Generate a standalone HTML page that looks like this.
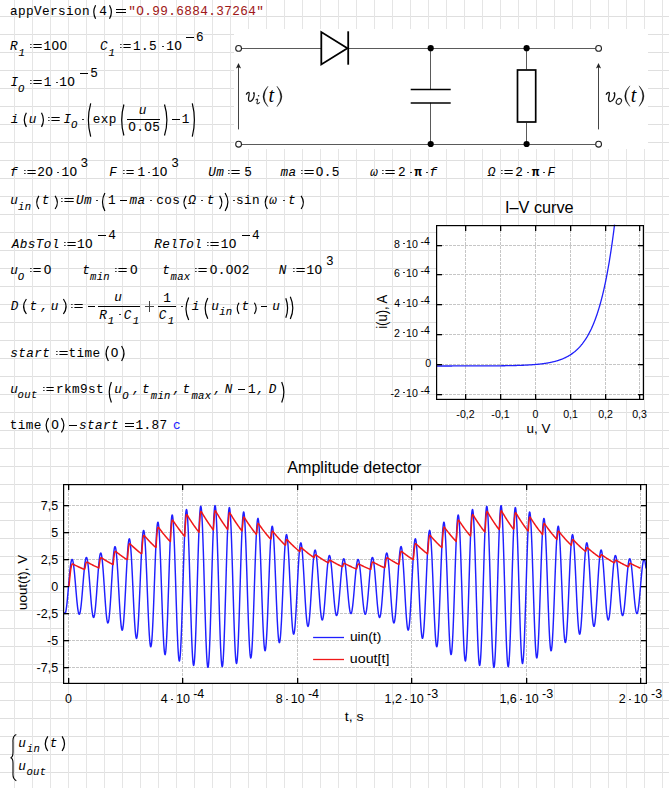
<!DOCTYPE html>
<html><head><meta charset="utf-8"><style>
html,body{margin:0;padding:0;background:#fff;}
body{width:669px;height:788px;overflow:hidden;position:relative;
background-image:linear-gradient(to right,#e5e5e5 1px,transparent 1px),linear-gradient(to bottom,#dfdfdf 1px,transparent 1px);
background-size:18px 18px;background-position:14px 16px;}
svg{position:absolute;left:0;top:0;}
text{font-family:"Liberation Mono",monospace;}
.m text{stroke:currentColor;stroke-width:0.06px;}
.s text{font-family:"Liberation Sans",sans-serif;}
</style></head><body>
<svg width="669" height="788" viewBox="0 0 669 788">
<rect x="234" y="29" width="414" height="120" fill="#fff"/>
<line x1="241.5" y1="48.5" x2="321.5" y2="48.5" stroke="#5a5a5a" stroke-width="1.05" />
<line x1="348" y1="48.5" x2="595.5" y2="48.5" stroke="#5a5a5a" stroke-width="1.05" />
<line x1="241.5" y1="144.5" x2="595.5" y2="144.5" stroke="#5a5a5a" stroke-width="1.05" />
<circle cx="238.6" cy="48.4" r="2.9" fill="#fff" stroke="#222" stroke-width="1.1"/>
<circle cx="238.6" cy="144.2" r="2.9" fill="#fff" stroke="#222" stroke-width="1.1"/>
<circle cx="598.6" cy="48.4" r="2.9" fill="#fff" stroke="#222" stroke-width="1.1"/>
<circle cx="598.6" cy="144.2" r="2.9" fill="#fff" stroke="#222" stroke-width="1.1"/>
<path d="M321.3,32 L321.3,64.4 L347.4,48.2 Z" fill="none" stroke="#000" stroke-width="1.8" stroke-linejoin="miter"/>
<line x1="348.2" y1="31.3" x2="348.2" y2="64.7" stroke="#000" stroke-width="1.8" />
<line x1="430.5" y1="48" x2="430.5" y2="89.2" stroke="#5a5a5a" stroke-width="1.05" />
<line x1="430.5" y1="102.7" x2="430.5" y2="144" stroke="#5a5a5a" stroke-width="1.05" />
<line x1="410.7" y1="89.4" x2="450.7" y2="89.4" stroke="#000" stroke-width="1.5" />
<line x1="410.7" y1="103" x2="450.7" y2="103" stroke="#000" stroke-width="1.6" />
<line x1="526.5" y1="48" x2="526.5" y2="69.2" stroke="#5a5a5a" stroke-width="1.05" />
<line x1="526.5" y1="122.8" x2="526.5" y2="144" stroke="#5a5a5a" stroke-width="1.05" />
<rect x="517.5" y="70.0" width="18.2" height="52" fill="#fff" stroke="#000" stroke-width="1.7"/>
<circle cx="430.7" cy="48.2" r="3.1" fill="#000"/>
<circle cx="430.7" cy="144" r="3.1" fill="#000"/>
<circle cx="526.6" cy="48.2" r="3.1" fill="#000"/>
<circle cx="526.6" cy="144" r="3.1" fill="#000"/>
<line x1="238.5" y1="129.4" x2="238.5" y2="66.5" stroke="#444" stroke-width="1.05" />
<path d="M238.5,63 L235.9,68.5 L238.5,67.3 L241.1,68.5 Z" fill="#222"/>
<line x1="598.5" y1="129.4" x2="598.5" y2="66.5" stroke="#444" stroke-width="1.05" />
<path d="M598.5,63 L595.9,68.5 L598.5,67.3 L601.1,68.5 Z" fill="#222"/>
<g transform="translate(246.1,101.5)"><path d="M0.1,-6.9 C0.9,-8.5 2.1,-9.5 2.9,-9.0 C3.6,-8.5 2.6,-5.0 2.4,-3.0 C2.2,-1.0 3.0,0.0 4.2,-0.1 C6.0,-0.3 8.1,-3.5 8.1,-7.0 C8.1,-8.0 7.8,-8.7 7.6,-8.9" fill="none" stroke="#111" stroke-width="1.25"/><circle cx="7.7" cy="-8.5" r="0.85" fill="#111"/></g>
<circle cx="258.6" cy="95.8" r="0.8" fill="#222"/><path d="M255.7,100.3 C256.3,99.2 257.3,98.8 257.7,99.5 C258,100.2 256.8,102.3 256.9,103.2 C257,104.2 258.6,103.8 259.8,102.2" fill="none" stroke="#222" stroke-width="1.05"/>
<path d="M268.00,86.20 Q258.00,96.45 268.00,106.70 Q260.50,96.45 268.00,86.20 Z" fill="#111" stroke="#111" stroke-width="0.35"/>
<text x="268.42" y="101.50" font-size="20" font-style="italic" style="font-family:'Liberation Serif',serif">t</text>
<path d="M276.90,86.20 Q286.90,96.45 276.90,106.70 Q284.40,96.45 276.90,86.20 Z" fill="#111" stroke="#111" stroke-width="0.35"/>
<g transform="translate(606.0,101.6) scale(1.08,1.0)"><path d="M0.1,-6.9 C0.9,-8.5 2.1,-9.5 2.9,-9.0 C3.6,-8.5 2.6,-5.0 2.4,-3.0 C2.2,-1.0 3.0,0.0 4.2,-0.1 C6.0,-0.3 8.1,-3.5 8.1,-7.0 C8.1,-8.0 7.8,-8.7 7.6,-8.9" fill="none" stroke="#111" stroke-width="1.25"/><circle cx="7.7" cy="-8.5" r="0.85" fill="#111"/></g>
<ellipse cx="618.85" cy="101.35" rx="2.4" ry="3.1" transform="rotate(35 618.85 101.35)" fill="none" stroke="#222" stroke-width="1.1"/>
<path d="M629.90,85.80 Q619.50,96.10 629.90,106.40 Q622.00,96.10 629.90,85.80 Z" fill="#111" stroke="#111" stroke-width="0.35"/>
<text x="630.72" y="101.50" font-size="20" font-style="italic" style="font-family:'Liberation Serif',serif">t</text>
<path d="M639.10,85.80 Q648.90,96.10 639.10,106.40 Q646.40,96.10 639.10,85.80 Z" fill="#111" stroke="#111" stroke-width="0.35"/>
<rect x="436" y="225" width="208" height="175" fill="#fff"/>
<line x1="465.5" y1="226" x2="465.5" y2="399" stroke="#c6c6c6" stroke-width="1" stroke-dasharray="3,1"/>
<line x1="500.5" y1="226" x2="500.5" y2="399" stroke="#c6c6c6" stroke-width="1" stroke-dasharray="3,1"/>
<line x1="535.5" y1="226" x2="535.5" y2="399" stroke="#c6c6c6" stroke-width="1" stroke-dasharray="3,1"/>
<line x1="570.5" y1="226" x2="570.5" y2="399" stroke="#c6c6c6" stroke-width="1" stroke-dasharray="3,1"/>
<line x1="605.5" y1="226" x2="605.5" y2="399" stroke="#c6c6c6" stroke-width="1" stroke-dasharray="3,1"/>
<line x1="639.5" y1="226" x2="639.5" y2="399" stroke="#c6c6c6" stroke-width="1" stroke-dasharray="3,1"/>
<line x1="437" y1="394.5" x2="643" y2="394.5" stroke="#c6c6c6" stroke-width="1" stroke-dasharray="3,1"/>
<line x1="437" y1="364.5" x2="643" y2="364.5" stroke="#c6c6c6" stroke-width="1" stroke-dasharray="3,1"/>
<line x1="437" y1="334.5" x2="643" y2="334.5" stroke="#c6c6c6" stroke-width="1" stroke-dasharray="3,1"/>
<line x1="437" y1="304.5" x2="643" y2="304.5" stroke="#c6c6c6" stroke-width="1" stroke-dasharray="3,1"/>
<line x1="437" y1="274.5" x2="643" y2="274.5" stroke="#c6c6c6" stroke-width="1" stroke-dasharray="3,1"/>
<line x1="437" y1="245.5" x2="643" y2="245.5" stroke="#c6c6c6" stroke-width="1" stroke-dasharray="3,1"/>
<polyline points="436.64,365.98 437.00,365.98 437.36,365.98 437.71,365.98 438.07,365.98 438.42,365.98 438.78,365.98 439.14,365.98 439.49,365.98 439.85,365.98 440.21,365.98 440.56,365.98 440.92,365.98 441.28,365.98 441.63,365.98 441.99,365.98 442.35,365.98 442.70,365.98 443.06,365.98 443.42,365.98 443.77,365.98 444.13,365.98 444.49,365.98 444.84,365.98 445.20,365.98 445.55,365.98 445.91,365.98 446.27,365.98 446.62,365.98 446.98,365.98 447.34,365.98 447.69,365.98 448.05,365.98 448.41,365.98 448.76,365.98 449.12,365.98 449.48,365.98 449.83,365.98 450.19,365.98 450.55,365.98 450.90,365.98 451.26,365.98 451.62,365.98 451.97,365.98 452.33,365.97 452.68,365.97 453.04,365.97 453.40,365.97 453.75,365.97 454.11,365.97 454.47,365.97 454.82,365.97 455.18,365.97 455.54,365.97 455.89,365.97 456.25,365.97 456.61,365.97 456.96,365.97 457.32,365.97 457.68,365.97 458.03,365.97 458.39,365.97 458.75,365.97 459.10,365.97 459.46,365.97 459.82,365.97 460.17,365.97 460.53,365.97 460.88,365.97 461.24,365.97 461.60,365.97 461.95,365.97 462.31,365.97 462.67,365.96 463.02,365.96 463.38,365.96 463.74,365.96 464.09,365.96 464.45,365.96 464.81,365.96 465.16,365.96 465.52,365.96 465.88,365.96 466.23,365.96 466.59,365.96 466.95,365.96 467.30,365.96 467.66,365.96 468.01,365.96 468.37,365.96 468.73,365.96 469.08,365.95 469.44,365.95 469.80,365.95 470.15,365.95 470.51,365.95 470.87,365.95 471.22,365.95 471.58,365.95 471.94,365.95 472.29,365.95 472.65,365.95 473.01,365.95 473.36,365.95 473.72,365.94 474.08,365.94 474.43,365.94 474.79,365.94 475.14,365.94 475.50,365.94 475.86,365.94 476.21,365.94 476.57,365.94 476.93,365.94 477.28,365.93 477.64,365.93 478.00,365.93 478.35,365.93 478.71,365.93 479.07,365.93 479.42,365.93 479.78,365.93 480.14,365.93 480.49,365.92 480.85,365.92 481.21,365.92 481.56,365.92 481.92,365.92 482.28,365.92 482.63,365.92 482.99,365.91 483.34,365.91 483.70,365.91 484.06,365.91 484.41,365.91 484.77,365.91 485.13,365.90 485.48,365.90 485.84,365.90 486.20,365.90 486.55,365.90 486.91,365.90 487.27,365.89 487.62,365.89 487.98,365.89 488.34,365.89 488.69,365.89 489.05,365.88 489.41,365.88 489.76,365.88 490.12,365.88 490.47,365.87 490.83,365.87 491.19,365.87 491.54,365.87 491.90,365.86 492.26,365.86 492.61,365.86 492.97,365.86 493.33,365.85 493.68,365.85 494.04,365.85 494.40,365.85 494.75,365.84 495.11,365.84 495.47,365.84 495.82,365.83 496.18,365.83 496.54,365.83 496.89,365.82 497.25,365.82 497.60,365.82 497.96,365.81 498.32,365.81 498.67,365.81 499.03,365.80 499.39,365.80 499.74,365.79 500.10,365.79 500.46,365.79 500.81,365.78 501.17,365.78 501.53,365.77 501.88,365.77 502.24,365.77 502.60,365.76 502.95,365.76 503.31,365.75 503.67,365.75 504.02,365.74 504.38,365.74 504.74,365.73 505.09,365.73 505.45,365.72 505.80,365.71 506.16,365.71 506.52,365.70 506.87,365.70 507.23,365.69 507.59,365.68 507.94,365.68 508.30,365.67 508.66,365.67 509.01,365.66 509.37,365.65 509.73,365.65 510.08,365.64 510.44,365.63 510.80,365.62 511.15,365.62 511.51,365.61 511.87,365.60 512.22,365.59 512.58,365.58 512.93,365.58 513.29,365.57 513.65,365.56 514.00,365.55 514.36,365.54 514.72,365.53 515.07,365.52 515.43,365.51 515.79,365.50 516.14,365.49 516.50,365.48 516.86,365.47 517.21,365.46 517.57,365.45 517.93,365.44 518.28,365.43 518.64,365.42 519.00,365.40 519.35,365.39 519.71,365.38 520.06,365.37 520.42,365.35 520.78,365.34 521.13,365.33 521.49,365.31 521.85,365.30 522.20,365.29 522.56,365.27 522.92,365.26 523.27,365.24 523.63,365.23 523.99,365.21 524.34,365.20 524.70,365.18 525.06,365.16 525.41,365.14 525.77,365.13 526.13,365.11 526.48,365.09 526.84,365.07 527.20,365.05 527.55,365.03 527.91,365.01 528.26,364.99 528.62,364.97 528.98,364.95 529.33,364.93 529.69,364.91 530.05,364.89 530.40,364.86 530.76,364.84 531.12,364.82 531.47,364.79 531.83,364.77 532.19,364.74 532.54,364.72 532.90,364.69 533.26,364.66 533.61,364.64 533.97,364.61 534.33,364.58 534.68,364.55 535.04,364.52 535.39,364.49 535.75,364.46 536.11,364.43 536.46,364.40 536.82,364.36 537.18,364.33 537.53,364.30 537.89,364.26 538.25,364.23 538.60,364.19 538.96,364.15 539.32,364.11 539.67,364.07 540.03,364.04 540.39,364.00 540.74,363.95 541.10,363.91 541.46,363.87 541.81,363.82 542.17,363.78 542.52,363.73 542.88,363.69 543.24,363.64 543.59,363.59 543.95,363.54 544.31,363.49 544.66,363.44 545.02,363.39 545.38,363.33 545.73,363.28 546.09,363.22 546.45,363.16 546.80,363.11 547.16,363.05 547.52,362.99 547.87,362.92 548.23,362.86 548.59,362.80 548.94,362.73 549.30,362.66 549.66,362.59 550.01,362.52 550.37,362.45 550.72,362.38 551.08,362.30 551.44,362.23 551.79,362.15 552.15,362.07 552.51,361.99 552.86,361.91 553.22,361.82 553.58,361.74 553.93,361.65 554.29,361.56 554.65,361.47 555.00,361.37 555.36,361.28 555.72,361.18 556.07,361.08 556.43,360.98 556.79,360.87 557.14,360.77 557.50,360.66 557.85,360.55 558.21,360.44 558.57,360.32 558.92,360.21 559.28,360.09 559.64,359.96 559.99,359.84 560.35,359.71 560.71,359.58 561.06,359.45 561.42,359.31 561.78,359.18 562.13,359.03 562.49,358.89 562.85,358.74 563.20,358.59 563.56,358.44 563.92,358.28 564.27,358.12 564.63,357.96 564.98,357.80 565.34,357.63 565.70,357.45 566.05,357.28 566.41,357.10 566.77,356.91 567.12,356.72 567.48,356.53 567.84,356.34 568.19,356.14 568.55,355.93 568.91,355.72 569.26,355.51 569.62,355.30 569.98,355.07 570.33,354.85 570.69,354.62 571.05,354.38 571.40,354.14 571.76,353.90 572.12,353.65 572.47,353.39 572.83,353.13 573.18,352.86 573.54,352.59 573.90,352.32 574.25,352.03 574.61,351.74 574.97,351.45 575.32,351.15 575.68,350.84 576.04,350.53 576.39,350.21 576.75,349.88 577.11,349.55 577.46,349.21 577.82,348.86 578.18,348.50 578.53,348.14 578.89,347.77 579.25,347.40 579.60,347.01 579.96,346.62 580.31,346.22 580.67,345.81 581.03,345.39 581.38,344.96 581.74,344.53 582.10,344.09 582.45,343.63 582.81,343.17 583.17,342.70 583.52,342.21 583.88,341.72 584.24,341.22 584.59,340.71 584.95,340.18 585.31,339.65 585.66,339.10 586.02,338.55 586.38,337.98 586.73,337.40 587.09,336.81 587.44,336.20 587.80,335.59 588.16,334.96 588.51,334.32 588.87,333.66 589.23,332.99 589.58,332.31 589.94,331.61 590.30,330.90 590.65,330.17 591.01,329.43 591.37,328.68 591.72,327.90 592.08,327.11 592.44,326.31 592.79,325.49 593.15,324.65 593.51,323.79 593.86,322.92 594.22,322.03 594.58,321.12 594.93,320.19 595.29,319.24 595.64,318.28 596.00,317.29 596.36,316.28 596.71,315.25 597.07,314.20 597.43,313.13 597.78,312.03 598.14,310.92 598.50,309.78 598.85,308.61 599.21,307.43 599.57,306.21 599.92,304.98 600.28,303.71 600.64,302.42 600.99,301.11 601.35,299.77 601.71,298.40 602.06,297.00 602.42,295.57 602.77,294.11 603.13,292.62 603.49,291.10 603.84,289.55 604.20,287.97 604.56,286.36 604.91,284.71 605.27,283.03 605.63,281.31 605.98,279.56 606.34,277.77 606.70,275.94 607.05,274.08 607.41,272.17 607.77,270.23 608.12,268.25 608.48,266.23 608.84,264.16 609.19,262.05 609.55,259.90 609.90,257.71 610.26,255.46 610.62,253.18 610.97,250.84 611.33,248.46 611.69,246.02 612.04,243.54 612.40,241.01 612.76,238.42 613.11,235.78 613.47,233.08 613.83,230.33 614.18,227.52 614.54,224.66" fill="none" stroke="#2020fa" stroke-width="1.3"/>
<rect x="465" y="394" width="1.3" height="5" fill="#000"/>
<rect x="465" y="226" width="1.3" height="5" fill="#000"/>
<rect x="500" y="394" width="1.3" height="5" fill="#000"/>
<rect x="500" y="226" width="1.3" height="5" fill="#000"/>
<rect x="535" y="394" width="1.3" height="5" fill="#000"/>
<rect x="535" y="226" width="1.3" height="5" fill="#000"/>
<rect x="570" y="394" width="1.3" height="5" fill="#000"/>
<rect x="570" y="226" width="1.3" height="5" fill="#000"/>
<rect x="605" y="394" width="1.3" height="5" fill="#000"/>
<rect x="605" y="226" width="1.3" height="5" fill="#000"/>
<rect x="639" y="394" width="1.3" height="5" fill="#000"/>
<rect x="639" y="226" width="1.3" height="5" fill="#000"/>
<rect x="437" y="394" width="5" height="1.3" fill="#000"/>
<rect x="638" y="394" width="5" height="1.3" fill="#000"/>
<rect x="437" y="364" width="5" height="1.3" fill="#000"/>
<rect x="638" y="364" width="5" height="1.3" fill="#000"/>
<rect x="437" y="334" width="5" height="1.3" fill="#000"/>
<rect x="638" y="334" width="5" height="1.3" fill="#000"/>
<rect x="437" y="304" width="5" height="1.3" fill="#000"/>
<rect x="638" y="304" width="5" height="1.3" fill="#000"/>
<rect x="437" y="274" width="5" height="1.3" fill="#000"/>
<rect x="638" y="274" width="5" height="1.3" fill="#000"/>
<rect x="437" y="245" width="5" height="1.3" fill="#000"/>
<rect x="638" y="245" width="5" height="1.3" fill="#000"/>
<rect x="436.6" y="225.6" width="206.8" height="173.8" fill="none" stroke="#000" stroke-width="1.2"/>
<text x="505.00" y="213.00" font-size="16" textLength="68.62" lengthAdjust="spacingAndGlyphs" fill="#000" style="font-family:'Liberation Sans',sans-serif">I–V curve</text>
<text x="465.50" y="418.20" font-size="10.6" text-anchor="middle" fill="#000" style="font-family:'Liberation Sans',sans-serif" >-0,2</text>
<text x="500.50" y="418.20" font-size="10.6" text-anchor="middle" fill="#000" style="font-family:'Liberation Sans',sans-serif" >-0,1</text>
<text x="535.50" y="418.20" font-size="10.6" text-anchor="middle" fill="#000" style="font-family:'Liberation Sans',sans-serif" >0</text>
<text x="570.50" y="418.20" font-size="10.6" text-anchor="middle" fill="#000" style="font-family:'Liberation Sans',sans-serif" >0,1</text>
<text x="605.50" y="418.20" font-size="10.6" text-anchor="middle" fill="#000" style="font-family:'Liberation Sans',sans-serif" >0,2</text>
<text x="639.50" y="418.20" font-size="10.6" text-anchor="middle" fill="#000" style="font-family:'Liberation Sans',sans-serif" >0,3</text>
<text x="526.63" y="432.80" font-size="13" textLength="23.93" lengthAdjust="spacingAndGlyphs" fill="#000" style="font-family:'Liberation Sans',sans-serif">u, V</text>
<text transform="translate(387.10,328.00) rotate(-90)" x="-0.86" y="0" font-size="14" textLength="34.18" lengthAdjust="spacingAndGlyphs" fill="#000" style="font-family:'Liberation Sans',sans-serif">i(u), A</text>
<text x="393.97" y="336.90" font-size="10.6" text-anchor="start" fill="#000" style="font-family:'Liberation Sans',sans-serif" >2</text>
<rect x="403.00" y="332.00" width="2.00" height="1.00" fill="#333"/>
<text x="405.99" y="336.90" font-size="10.6" text-anchor="start" fill="#000" style="font-family:'Liberation Sans',sans-serif" >10</text>
<text x="420.53" y="333.50" font-size="10.6" text-anchor="start" fill="#000" style="font-family:'Liberation Sans',sans-serif" >-4</text>
<text x="394.26" y="306.90" font-size="10.6" text-anchor="start" fill="#000" style="font-family:'Liberation Sans',sans-serif" >4</text>
<rect x="403.00" y="302.00" width="2.00" height="1.00" fill="#333"/>
<text x="405.99" y="306.90" font-size="10.6" text-anchor="start" fill="#000" style="font-family:'Liberation Sans',sans-serif" >10</text>
<text x="420.53" y="303.50" font-size="10.6" text-anchor="start" fill="#000" style="font-family:'Liberation Sans',sans-serif" >-4</text>
<text x="393.96" y="276.90" font-size="10.6" text-anchor="start" fill="#000" style="font-family:'Liberation Sans',sans-serif" >6</text>
<rect x="403.00" y="272.00" width="2.00" height="1.00" fill="#333"/>
<text x="405.99" y="276.90" font-size="10.6" text-anchor="start" fill="#000" style="font-family:'Liberation Sans',sans-serif" >10</text>
<text x="420.53" y="273.50" font-size="10.6" text-anchor="start" fill="#000" style="font-family:'Liberation Sans',sans-serif" >-4</text>
<text x="394.04" y="247.90" font-size="10.6" text-anchor="start" fill="#000" style="font-family:'Liberation Sans',sans-serif" >8</text>
<rect x="403.00" y="243.00" width="2.00" height="1.00" fill="#333"/>
<text x="405.99" y="247.90" font-size="10.6" text-anchor="start" fill="#000" style="font-family:'Liberation Sans',sans-serif" >10</text>
<text x="420.53" y="244.50" font-size="10.6" text-anchor="start" fill="#000" style="font-family:'Liberation Sans',sans-serif" >-4</text>
<text x="390.41" y="396.90" font-size="10.6" text-anchor="start" fill="#000" style="font-family:'Liberation Sans',sans-serif" >-2</text>
<rect x="403.00" y="392.00" width="2.00" height="1.00" fill="#333"/>
<text x="405.99" y="396.90" font-size="10.6" text-anchor="start" fill="#000" style="font-family:'Liberation Sans',sans-serif" >10</text>
<text x="420.53" y="393.50" font-size="10.6" text-anchor="start" fill="#000" style="font-family:'Liberation Sans',sans-serif" >-4</text>
<text x="425.32" y="367.20" font-size="10.6" text-anchor="start" fill="#000" style="font-family:'Liberation Sans',sans-serif" >0</text>
<rect x="63" y="484" width="584" height="200" fill="#fff"/>
<line x1="68.5" y1="485" x2="68.5" y2="683" stroke="#c6c6c6" stroke-width="1" stroke-dasharray="3,1"/>
<line x1="182.5" y1="485" x2="182.5" y2="683" stroke="#c6c6c6" stroke-width="1" stroke-dasharray="3,1"/>
<line x1="297.5" y1="485" x2="297.5" y2="683" stroke="#c6c6c6" stroke-width="1" stroke-dasharray="3,1"/>
<line x1="411.5" y1="485" x2="411.5" y2="683" stroke="#c6c6c6" stroke-width="1" stroke-dasharray="3,1"/>
<line x1="526.5" y1="485" x2="526.5" y2="683" stroke="#c6c6c6" stroke-width="1" stroke-dasharray="3,1"/>
<line x1="640.5" y1="485" x2="640.5" y2="683" stroke="#c6c6c6" stroke-width="1" stroke-dasharray="3,1"/>
<line x1="64" y1="667.5" x2="646" y2="667.5" stroke="#c6c6c6" stroke-width="1" stroke-dasharray="3,1"/>
<line x1="64" y1="640.5" x2="646" y2="640.5" stroke="#c6c6c6" stroke-width="1" stroke-dasharray="3,1"/>
<line x1="64" y1="613.5" x2="646" y2="613.5" stroke="#c6c6c6" stroke-width="1" stroke-dasharray="3,1"/>
<line x1="64" y1="586.5" x2="646" y2="586.5" stroke="#c6c6c6" stroke-width="1" stroke-dasharray="3,1"/>
<line x1="64" y1="559.5" x2="646" y2="559.5" stroke="#c6c6c6" stroke-width="1" stroke-dasharray="3,1"/>
<line x1="64" y1="532.5" x2="646" y2="532.5" stroke="#c6c6c6" stroke-width="1" stroke-dasharray="3,1"/>
<line x1="64" y1="505.5" x2="646" y2="505.5" stroke="#c6c6c6" stroke-width="1" stroke-dasharray="3,1"/>
<polyline points="64.20,612.26 64.44,613.00 64.69,613.44 64.93,613.58 65.17,613.42 65.41,612.94 65.66,612.17 65.90,611.11 66.14,609.77 66.38,608.17 66.63,606.33 66.87,604.26 67.11,601.99 67.35,599.55 67.60,596.95 67.84,594.25 68.08,591.45 68.32,588.60 68.57,585.73 68.81,582.86 69.05,580.03 69.29,577.28 69.54,574.63 69.78,572.12 70.02,569.77 70.26,567.60 70.51,565.65 70.75,563.93 70.99,562.47 71.23,561.28 71.48,560.38 71.72,559.76 71.96,559.46 72.20,559.45 72.45,559.76 72.69,560.36 72.93,561.27 73.17,562.46 73.42,563.92 73.66,565.64 73.90,567.60 74.14,569.77 74.39,572.14 74.63,574.68 74.87,577.35 75.11,580.13 75.36,582.98 75.60,585.88 75.84,588.79 76.08,591.68 76.33,594.52 76.57,597.27 76.81,599.90 77.05,602.39 77.30,604.70 77.54,606.81 77.78,608.70 78.02,610.33 78.27,611.70 78.51,612.79 78.75,613.58 78.99,614.07 79.24,614.25 79.48,614.11 79.72,613.66 79.96,612.90 80.21,611.84 80.45,610.48 80.69,608.86 80.93,606.97 81.18,604.85 81.42,602.51 81.66,599.99 81.90,597.31 82.15,594.49 82.39,591.58 82.63,588.59 82.87,585.58 83.12,582.57 83.36,579.59 83.60,576.68 83.84,573.87 84.09,571.20 84.33,568.69 84.57,566.37 84.81,564.28 85.06,562.43 85.30,560.84 85.54,559.54 85.78,558.55 86.03,557.86 86.27,557.50 86.51,557.47 86.75,557.76 87.00,558.38 87.24,559.33 87.48,560.58 87.72,562.14 87.97,563.98 88.21,566.08 88.45,568.42 88.69,570.98 88.94,573.72 89.18,576.62 89.42,579.65 89.66,582.76 89.91,585.93 90.15,589.12 90.39,592.30 90.63,595.42 90.88,598.46 91.12,601.38 91.36,604.14 91.60,606.71 91.85,609.06 92.09,611.17 92.33,613.01 92.57,614.55 92.82,615.79 93.06,616.69 93.30,617.26 93.54,617.48 93.79,617.35 94.03,616.87 94.27,616.05 94.51,614.88 94.76,613.38 95.00,611.57 95.24,609.47 95.48,607.10 95.73,604.47 95.97,601.64 96.21,598.61 96.45,595.43 96.70,592.13 96.94,588.76 97.18,585.33 97.42,581.91 97.67,578.52 97.91,575.20 98.15,571.99 98.39,568.93 98.64,566.05 98.88,563.39 99.12,560.97 99.37,558.84 99.61,557.01 99.85,555.50 100.09,554.34 100.34,553.53 100.58,553.10 100.82,553.04 101.06,553.37 101.31,554.07 101.55,555.15 101.79,556.59 102.03,558.37 102.28,560.49 102.52,562.91 102.76,565.62 103.00,568.58 103.25,571.76 103.49,575.13 103.73,578.65 103.97,582.27 104.22,585.97 104.46,589.69 104.70,593.40 104.94,597.05 105.19,600.61 105.43,604.02 105.67,607.25 105.91,610.27 106.16,613.04 106.40,615.52 106.64,617.68 106.88,619.50 107.13,620.96 107.37,622.03 107.61,622.71 107.85,622.97 108.10,622.83 108.34,622.27 108.58,621.30 108.82,619.92 109.07,618.16 109.31,616.03 109.55,613.55 109.79,610.74 110.04,607.65 110.28,604.29 110.52,600.71 110.76,596.94 111.01,593.04 111.25,589.03 111.49,584.97 111.73,580.91 111.98,576.88 112.22,572.94 112.46,569.13 112.70,565.49 112.95,562.07 113.19,558.91 113.43,556.04 113.67,553.50 113.92,551.32 114.16,549.53 114.40,548.15 114.64,547.19 114.89,546.68 115.13,546.62 115.37,547.01 115.61,547.86 115.86,549.15 116.10,550.87 116.34,553.01 116.58,555.54 116.83,558.44 117.07,561.68 117.31,565.22 117.55,569.03 117.80,573.06 118.04,577.27 118.28,581.60 118.52,586.02 118.77,590.48 119.01,594.91 119.25,599.28 119.49,603.52 119.74,607.60 119.98,611.47 120.22,615.07 120.46,618.37 120.71,621.33 120.95,623.91 121.19,626.08 121.43,627.81 121.68,629.08 121.92,629.88 122.16,630.18 122.40,629.99 122.65,629.30 122.89,628.13 123.13,626.46 123.37,624.34 123.62,621.77 123.86,618.78 124.10,615.41 124.34,611.69 124.59,607.66 124.83,603.36 125.07,598.84 125.31,594.16 125.56,589.36 125.80,584.50 126.04,579.64 126.28,574.82 126.53,570.11 126.77,565.55 127.01,561.21 127.25,557.13 127.50,553.36 127.74,549.94 127.98,546.92 128.22,544.33 128.47,542.21 128.71,540.58 128.95,539.47 129.19,538.88 129.44,538.83 129.68,539.33 129.92,540.36 130.16,541.93 130.41,544.01 130.65,546.59 130.89,549.64 131.13,553.13 131.38,557.01 131.62,561.26 131.86,565.82 132.10,570.63 132.35,575.66 132.59,580.84 132.83,586.12 133.08,591.43 133.32,596.71 133.56,601.91 133.80,606.96 134.05,611.80 134.29,616.39 134.53,620.66 134.77,624.57 135.02,628.06 135.26,631.11 135.50,633.66 135.74,635.68 135.99,637.16 136.23,638.07 136.47,638.40 136.71,638.14 136.96,637.28 137.20,635.85 137.44,633.85 137.68,631.29 137.93,628.21 138.17,624.64 138.41,620.62 138.65,616.18 138.90,611.38 139.14,606.28 139.38,600.92 139.62,595.37 139.87,589.68 140.11,583.93 140.35,578.18 140.59,572.50 140.84,566.94 141.08,561.57 141.32,556.47 141.56,551.67 141.81,547.25 142.05,543.25 142.29,539.72 142.53,536.71 142.78,534.25 143.02,532.37 143.26,531.10 143.50,530.45 143.75,530.44 143.99,531.06 144.23,532.32 144.47,534.21 144.72,536.70 144.96,539.76 145.20,543.38 145.44,547.50 145.69,552.09 145.93,557.10 146.17,562.46 146.41,568.12 146.66,574.02 146.90,580.10 147.14,586.27 147.38,592.48 147.63,598.65 147.87,604.71 148.11,610.59 148.35,616.23 148.60,621.56 148.84,626.51 149.08,631.03 149.32,635.07 149.57,638.57 149.81,641.49 150.05,643.81 150.29,645.48 150.54,646.49 150.78,646.82 151.02,646.46 151.26,645.42 151.51,643.71 151.75,641.33 151.99,638.32 152.23,634.71 152.48,630.53 152.72,625.83 152.96,620.67 153.20,615.09 153.45,609.16 153.69,602.94 153.93,596.52 154.17,589.94 154.42,583.30 154.66,576.67 154.90,570.12 155.14,563.73 155.39,557.57 155.63,551.71 155.87,546.23 156.11,541.17 156.36,536.62 156.60,532.61 156.84,529.20 157.08,526.42 157.33,524.32 157.57,522.91 157.81,522.23 158.05,522.27 158.30,523.04 158.54,524.54 158.78,526.75 159.02,529.65 159.27,533.21 159.51,537.39 159.75,542.14 159.99,547.42 160.24,553.16 160.48,559.31 160.72,565.79 160.96,572.53 161.21,579.46 161.45,586.49 161.69,593.55 161.93,600.56 162.18,607.43 162.42,614.09 162.66,620.47 162.90,626.48 163.15,632.06 163.39,637.14 163.63,641.67 163.87,645.58 164.12,648.84 164.36,651.40 164.60,653.23 164.84,654.30 165.09,654.61 165.33,654.15 165.57,652.91 165.81,650.92 166.06,648.19 166.30,644.74 166.54,640.62 166.78,635.87 167.03,630.54 167.27,624.69 167.51,618.39 167.76,611.70 168.00,604.70 168.24,597.48 168.48,590.10 168.73,582.66 168.97,575.23 169.21,567.91 169.45,560.78 169.70,553.92 169.94,547.40 170.18,541.31 170.42,535.72 170.67,530.68 170.91,526.26 171.15,522.51 171.39,519.48 171.64,517.20 171.88,515.71 172.12,515.01 172.36,515.12 172.61,516.05 172.85,517.78 173.09,520.30 173.33,523.57 173.58,527.58 173.82,532.26 174.06,537.58 174.30,543.46 174.55,549.86 174.79,556.69 175.03,563.87 175.27,571.34 175.52,579.00 175.76,586.76 176.00,594.55 176.24,602.26 176.49,609.82 176.73,617.13 176.97,624.11 177.21,630.68 177.46,636.77 177.70,642.31 177.94,647.22 178.18,651.46 178.43,654.97 178.67,657.71 178.91,659.64 179.15,660.75 179.40,661.02 179.64,660.44 179.88,659.02 180.12,656.78 180.37,653.72 180.61,649.90 180.85,645.35 181.09,640.11 181.34,634.26 181.58,627.85 181.82,620.95 182.06,613.64 182.31,606.01 182.55,598.14 182.79,590.12 183.03,582.05 183.28,574.00 183.52,566.08 183.76,558.37 184.00,550.97 184.25,543.95 184.49,537.40 184.73,531.40 184.97,526.01 185.22,521.30 185.46,517.32 185.70,514.11 185.94,511.73 186.19,510.19 186.43,509.51 186.67,509.71 186.91,510.77 187.16,512.71 187.40,515.48 187.64,519.07 187.88,523.43 188.13,528.51 188.37,534.27 188.61,540.62 188.85,547.51 189.10,554.86 189.34,562.57 189.58,570.58 189.82,578.77 190.07,587.07 190.31,595.38 190.55,603.60 190.79,611.64 191.04,619.40 191.28,626.81 191.52,633.76 191.76,640.20 192.01,646.03 192.25,651.19 192.49,655.63 192.73,659.29 192.98,662.12 193.22,664.10 193.46,665.21 193.70,665.41 193.95,664.73 194.19,663.15 194.43,660.70 194.67,657.41 194.92,653.30 195.16,648.43 195.40,642.85 195.64,636.62 195.89,629.82 196.13,622.51 196.37,614.79 196.61,606.74 196.86,598.45 197.10,590.01 197.34,581.52 197.58,573.08 197.83,564.79 198.07,556.73 198.31,549.00 198.55,541.69 198.80,534.88 199.04,528.65 199.28,523.07 199.52,518.21 199.77,514.12 200.01,510.84 200.25,508.42 200.49,506.89 200.74,506.26 200.98,506.54 201.22,507.73 201.47,509.82 201.71,512.78 201.95,516.57 202.19,521.17 202.44,526.51 202.68,532.53 202.92,539.17 203.16,546.36 203.41,554.00 203.65,562.02 203.89,570.32 204.13,578.81 204.38,587.39 204.62,595.97 204.86,604.45 205.10,612.72 205.35,620.70 205.59,628.30 205.83,635.42 206.07,641.99 206.32,647.94 206.56,653.19 206.80,657.68 207.04,661.37 207.29,664.21 207.53,666.17 207.77,667.22 208.01,667.36 208.26,666.58 208.50,664.89 208.74,662.31 208.98,658.87 209.23,654.60 209.47,649.56 209.71,643.81 209.95,637.40 210.20,630.42 210.44,622.93 210.68,615.03 210.92,606.81 211.17,598.35 211.41,589.76 211.65,581.14 211.89,572.57 212.14,564.17 212.38,556.01 212.62,548.21 212.86,540.84 213.11,533.98 213.35,527.73 213.59,522.14 213.83,517.29 214.08,513.22 214.32,509.98 214.56,507.62 214.80,506.15 215.05,505.59 215.29,505.95 215.53,507.22 215.77,509.40 216.02,512.45 216.26,516.34 216.50,521.02 216.74,526.45 216.99,532.55 217.23,539.26 217.47,546.51 217.71,554.21 217.96,562.27 218.20,570.60 218.44,579.11 218.68,587.70 218.93,596.27 219.17,604.72 219.41,612.96 219.65,620.90 219.90,628.44 220.14,635.50 220.38,641.99 220.62,647.86 220.87,653.02 221.11,657.43 221.35,661.02 221.59,663.77 221.84,665.64 222.08,666.61 222.32,666.67 222.56,665.82 222.81,664.07 223.05,661.44 223.29,657.96 223.53,653.68 223.78,648.64 224.02,642.89 224.26,636.51 224.50,629.58 224.75,622.16 224.99,614.34 225.23,606.21 225.47,597.87 225.72,589.41 225.96,580.93 226.20,572.52 226.44,564.28 226.69,556.29 226.93,548.67 227.17,541.48 227.41,534.81 227.66,528.73 227.90,523.32 228.14,518.63 228.38,514.72 228.63,511.62 228.87,509.38 229.11,508.02 229.35,507.55 229.60,507.98 229.84,509.30 230.08,511.49 230.32,514.53 230.57,518.38 230.81,523.00 231.05,528.33 231.29,534.32 231.54,540.88 231.78,547.96 232.02,555.46 232.26,563.30 232.51,571.39 232.75,579.64 232.99,587.95 233.23,596.23 233.48,604.39 233.72,612.33 233.96,619.97 234.20,627.21 234.45,633.98 234.69,640.19 234.93,645.79 235.17,650.70 235.42,654.88 235.66,658.27 235.90,660.84 236.15,662.57 236.39,663.42 236.63,663.41 236.87,662.52 237.12,660.77 237.36,658.18 237.60,654.78 237.84,650.62 238.09,645.74 238.33,640.19 238.57,634.05 238.81,627.38 239.06,620.26 239.30,612.78 239.54,605.01 239.78,597.05 240.03,588.99 240.27,580.92 240.51,572.92 240.75,565.10 241.00,557.55 241.24,550.33 241.48,543.55 241.72,537.26 241.97,531.55 242.21,526.48 242.45,522.10 242.69,518.46 242.94,515.60 243.18,513.55 243.42,512.34 243.66,511.97 243.91,512.44 244.15,513.75 244.39,515.89 244.63,518.82 244.88,522.51 245.12,526.91 245.36,531.99 245.60,537.66 245.85,543.87 246.09,550.56 246.33,557.63 246.57,565.00 246.82,572.61 247.06,580.35 247.30,588.13 247.54,595.88 247.79,603.50 248.03,610.90 248.27,618.01 248.51,624.74 248.76,631.02 249.00,636.77 249.24,641.94 249.48,646.46 249.73,650.29 249.97,653.39 250.21,655.71 250.45,657.25 250.70,657.98 250.94,657.89 251.18,657.00 251.42,655.31 251.67,652.85 251.91,649.64 252.15,645.72 252.39,641.15 252.64,635.97 252.88,630.25 253.12,624.05 253.36,617.44 253.61,610.50 253.85,603.32 254.09,595.97 254.33,588.53 254.58,581.10 254.82,573.75 255.06,566.57 255.30,559.64 255.55,553.04 255.79,546.84 256.03,541.11 256.27,535.92 256.52,531.32 256.76,527.36 257.00,524.08 257.24,521.53 257.49,519.71 257.73,518.67 257.97,518.39 258.21,518.89 258.46,520.15 258.70,522.16 258.94,524.89 259.18,528.31 259.43,532.38 259.67,537.05 259.91,542.26 260.15,547.95 260.40,554.05 260.64,560.50 260.88,567.23 261.12,574.14 261.37,581.17 261.61,588.23 261.85,595.24 262.09,602.13 262.34,608.82 262.58,615.22 262.82,621.27 263.06,626.91 263.31,632.07 263.55,636.68 263.79,640.72 264.03,644.12 264.28,646.85 264.52,648.89 264.76,650.21 265.00,650.81 265.25,650.67 265.49,649.81 265.73,648.23 265.97,645.97 266.22,643.03 266.46,639.47 266.70,635.32 266.94,630.64 267.19,625.48 267.43,619.89 267.67,613.95 267.91,607.73 268.16,601.30 268.40,594.72 268.64,588.08 268.88,581.45 269.13,574.90 269.37,568.52 269.61,562.37 269.86,556.52 270.10,551.03 270.34,545.98 270.58,541.40 270.83,537.36 271.07,533.89 271.31,531.03 271.55,528.81 271.80,527.26 272.04,526.39 272.28,526.20 272.52,526.70 272.77,527.87 273.01,529.70 273.25,532.16 273.49,535.23 273.74,538.87 273.98,543.03 274.22,547.66 274.46,552.71 274.71,558.11 274.95,563.82 275.19,569.75 275.43,575.85 275.68,582.03 275.92,588.24 276.16,594.39 276.40,600.43 276.65,606.28 276.89,611.88 277.13,617.16 277.37,622.07 277.62,626.55 277.86,630.55 278.10,634.04 278.34,636.96 278.59,639.31 278.83,641.04 279.07,642.15 279.31,642.62 279.56,642.45 279.80,641.65 280.04,640.23 280.28,638.20 280.53,635.60 280.77,632.46 281.01,628.82 281.25,624.71 281.50,620.19 281.74,615.32 281.98,610.14 282.22,604.72 282.47,599.13 282.71,593.42 282.95,587.66 283.19,581.92 283.44,576.27 283.68,570.76 283.92,565.45 284.16,560.42 284.41,555.70 284.65,551.36 284.89,547.45 285.13,543.99 285.38,541.04 285.62,538.61 285.86,536.75 286.10,535.45 286.35,534.75 286.59,534.63 286.83,535.10 287.07,536.15 287.32,537.76 287.56,539.92 287.80,542.59 288.04,545.75 288.29,549.35 288.53,553.35 288.77,557.70 289.01,562.35 289.26,567.25 289.50,572.35 289.74,577.57 289.98,582.87 290.23,588.17 290.47,593.43 290.71,598.58 290.95,603.56 291.20,608.32 291.44,612.81 291.68,616.97 291.92,620.76 292.17,624.15 292.41,627.08 292.65,629.54 292.89,631.50 293.14,632.94 293.38,633.84 293.62,634.21 293.86,634.03 294.11,633.31 294.35,632.07 294.59,630.32 294.83,628.08 295.08,625.38 295.32,622.26 295.56,618.76 295.80,614.91 296.05,610.76 296.29,606.36 296.53,601.76 296.77,597.02 297.02,592.18 297.26,587.31 297.50,582.46 297.74,577.69 297.99,573.04 298.23,568.57 298.47,564.34 298.71,560.38 298.96,556.74 299.20,553.45 299.44,550.57 299.68,548.10 299.93,546.09 300.17,544.54 300.41,543.48 300.65,542.92 300.90,542.85 301.14,543.27 301.38,544.18 301.62,545.57 301.87,547.41 302.11,549.68 302.35,552.35 302.59,555.40 302.84,558.78 303.08,562.45 303.32,566.37 303.56,570.50 303.81,574.78 304.05,579.16 304.29,583.61 304.54,588.06 304.78,592.46 305.02,596.77 305.26,600.94 305.51,604.92 305.75,608.66 305.99,612.14 306.23,615.30 306.48,618.11 306.72,620.55 306.96,622.59 307.20,624.21 307.45,625.39 307.69,626.12 307.93,626.41 308.17,626.23 308.42,625.61 308.66,624.55 308.90,623.07 309.14,621.18 309.39,618.91 309.63,616.29 309.87,613.35 310.11,610.12 310.36,606.64 310.60,602.96 310.84,599.11 311.08,595.14 311.33,591.10 311.57,587.04 311.81,582.99 312.05,579.00 312.30,575.13 312.54,571.40 312.78,567.87 313.02,564.58 313.27,561.55 313.51,558.82 313.75,556.42 313.99,554.37 314.24,552.70 314.48,551.43 314.72,550.56 314.96,550.10 315.21,550.05 315.45,550.42 315.69,551.19 315.93,552.36 316.18,553.91 316.42,555.82 316.66,558.06 316.90,560.61 317.15,563.44 317.39,566.51 317.63,569.80 317.87,573.25 318.12,576.83 318.36,580.50 318.60,584.21 318.84,587.93 319.09,591.62 319.33,595.22 319.57,598.70 319.81,602.03 320.06,605.16 320.30,608.06 320.54,610.70 320.78,613.06 321.03,615.09 321.27,616.80 321.51,618.15 321.75,619.14 322.00,619.75 322.24,619.98 322.48,619.83 322.72,619.31 322.97,618.41 323.21,617.16 323.45,615.58 323.69,613.67 323.94,611.46 324.18,608.99 324.42,606.27 324.66,603.34 324.91,600.24 325.15,597.00 325.39,593.66 325.63,590.26 325.88,586.83 326.12,583.42 326.36,580.05 326.60,576.78 326.85,573.64 327.09,570.66 327.33,567.87 327.57,565.30 327.82,562.99 328.06,560.96 328.30,559.22 328.54,557.81 328.79,556.72 329.03,555.98 329.27,555.58 329.51,555.54 329.76,555.84 330.00,556.50 330.24,557.48 330.48,558.80 330.73,560.41 330.97,562.32 331.21,564.49 331.45,566.90 331.70,569.52 331.94,572.32 332.18,575.27 332.42,578.33 332.67,581.47 332.91,584.65 333.15,587.84 333.39,591.00 333.64,594.10 333.88,597.10 334.12,599.96 334.36,602.66 334.61,605.17 334.85,607.46 335.09,609.49 335.33,611.27 335.58,612.75 335.82,613.93 336.06,614.80 336.30,615.34 336.55,615.56 336.79,615.44 337.03,615.00 337.27,614.24 337.52,613.17 337.76,611.80 338.00,610.15 338.25,608.23 338.49,606.08 338.73,603.72 338.97,601.16 339.22,598.46 339.46,595.62 339.70,592.69 339.94,589.70 340.19,586.68 340.43,583.68 340.67,580.71 340.91,577.81 341.16,575.03 341.40,572.38 341.64,569.90 341.88,567.61 342.13,565.55 342.37,563.72 342.61,562.16 342.85,560.88 343.10,559.89 343.34,559.20 343.58,558.83 343.82,558.77 344.07,559.02 344.31,559.58 344.55,560.45 344.79,561.60 345.04,563.04 345.28,564.74 345.52,566.68 345.76,568.84 346.01,571.20 346.25,573.73 346.49,576.39 346.73,579.17 346.98,582.02 347.22,584.92 347.46,587.83 347.70,590.72 347.95,593.56 348.19,596.31 348.43,598.95 348.67,601.45 348.92,603.77 349.16,605.90 349.40,607.80 349.64,609.46 349.89,610.86 350.13,611.98 350.37,612.81 350.61,613.34 350.86,613.57 351.10,613.50 351.34,613.11 351.58,612.43 351.83,611.45 352.07,610.20 352.31,608.67 352.55,606.90 352.80,604.89 353.04,602.68 353.28,600.28 353.52,597.73 353.77,595.06 354.01,592.28 354.25,589.45 354.49,586.57 354.74,583.70 354.98,580.86 355.22,578.08 355.46,575.40 355.71,572.85 355.95,570.44 356.19,568.22 356.43,566.20 356.68,564.41 356.92,562.88 357.16,561.60 357.40,560.61 357.65,559.91 357.89,559.52 358.13,559.42 358.37,559.64 358.62,560.15 358.86,560.97 359.10,562.08 359.34,563.46 359.59,565.11 359.83,567.00 360.07,569.11 360.31,571.42 360.56,573.91 360.80,576.55 361.04,579.30 361.28,582.13 361.53,585.02 361.77,587.93 362.01,590.83 362.25,593.69 362.50,596.47 362.74,599.14 362.98,601.67 363.22,604.04 363.47,606.21 363.71,608.16 363.95,609.88 364.19,611.33 364.44,612.50 364.68,613.38 364.92,613.96 365.16,614.23 365.41,614.18 365.65,613.82 365.89,613.15 366.13,612.18 366.38,610.91 366.62,609.37 366.86,607.56 367.10,605.50 367.35,603.23 367.59,600.75 367.83,598.11 368.07,595.33 368.32,592.44 368.56,589.48 368.80,586.47 369.04,583.46 369.29,580.46 369.53,577.53 369.77,574.69 370.01,571.97 370.26,569.41 370.50,567.04 370.74,564.87 370.98,562.95 371.23,561.28 371.47,559.90 371.71,558.81 371.95,558.03 372.20,557.57 372.44,557.44 372.68,557.64 372.93,558.17 373.17,559.02 373.41,560.18 373.65,561.65 373.90,563.41 374.14,565.43 374.38,567.71 374.62,570.20 374.87,572.89 375.11,575.75 375.35,578.74 375.59,581.83 375.84,584.99 376.08,588.18 376.32,591.37 376.56,594.51 376.81,597.58 377.05,600.53 377.29,603.34 377.53,605.97 377.78,608.39 378.02,610.57 378.26,612.49 378.50,614.13 378.75,615.45 378.99,616.46 379.23,617.13 379.47,617.45 379.72,617.43 379.96,617.05 380.20,616.33 380.44,615.26 380.69,613.86 380.93,612.14 381.17,610.12 381.41,607.82 381.66,605.27 381.90,602.49 382.14,599.52 382.38,596.38 382.63,593.12 382.87,589.76 383.11,586.35 383.35,582.92 383.60,579.51 383.84,576.17 384.08,572.92 384.32,569.81 384.57,566.88 384.81,564.15 385.05,561.66 385.29,559.44 385.54,557.51 385.78,555.91 386.02,554.64 386.26,553.73 386.51,553.19 386.75,553.02 386.99,553.23 387.23,553.82 387.48,554.79 387.72,556.12 387.96,557.81 388.20,559.83 388.45,562.17 388.69,564.79 388.93,567.68 389.17,570.80 389.42,574.12 389.66,577.60 389.90,581.19 390.14,584.87 390.39,588.59 390.63,592.31 390.87,595.98 391.11,599.57 391.36,603.03 391.60,606.32 391.84,609.41 392.08,612.25 392.33,614.82 392.57,617.07 392.81,619.00 393.05,620.57 393.30,621.76 393.54,622.55 393.78,622.94 394.02,622.92 394.27,622.48 394.51,621.63 394.75,620.37 394.99,618.72 395.24,616.70 395.48,614.32 395.72,611.60 395.96,608.59 396.21,605.30 396.45,601.79 396.69,598.07 396.93,594.20 397.18,590.22 397.42,586.18 397.66,582.11 397.90,578.07 398.15,574.09 398.39,570.24 398.63,566.55 398.87,563.06 399.12,559.81 399.36,556.86 399.60,554.22 399.84,551.93 400.09,550.02 400.33,548.51 400.57,547.43 400.81,546.79 401.06,546.59 401.30,546.85 401.54,547.56 401.78,548.72 402.03,550.32 402.27,552.33 402.51,554.75 402.75,557.55 403.00,560.69 403.24,564.15 403.48,567.88 403.72,571.85 403.97,576.01 404.21,580.31 404.45,584.71 404.69,589.16 404.94,593.61 405.18,598.00 405.42,602.29 405.66,606.42 405.91,610.35 406.15,614.04 406.39,617.43 406.64,620.50 406.88,623.19 407.12,625.48 407.36,627.35 407.61,628.76 407.85,629.69 408.09,630.14 408.33,630.10 408.58,629.56 408.82,628.52 409.06,627.00 409.30,625.01 409.55,622.57 409.79,619.71 410.03,616.44 410.27,612.82 410.52,608.88 410.76,604.65 411.00,600.20 411.24,595.56 411.49,590.79 411.73,585.94 411.97,581.07 412.21,576.23 412.46,571.48 412.70,566.88 412.94,562.46 413.18,558.30 413.43,554.43 413.67,550.91 413.91,547.77 414.15,545.05 414.40,542.79 414.64,541.01 414.88,539.74 415.12,539.00 415.37,538.79 415.61,539.12 415.85,540.00 416.09,541.41 416.34,543.34 416.58,545.78 416.82,548.69 417.06,552.05 417.31,555.83 417.55,559.97 417.79,564.44 418.03,569.19 418.28,574.16 418.52,579.30 418.76,584.55 419.00,589.86 419.25,595.16 419.49,600.38 419.73,605.49 419.97,610.40 420.22,615.07 420.46,619.44 420.70,623.46 420.94,627.08 421.19,630.26 421.43,632.96 421.67,635.14 421.91,636.78 422.16,637.86 422.40,638.36 422.64,638.28 422.88,637.60 423.13,636.33 423.37,634.50 423.61,632.10 423.85,629.17 424.10,625.74 424.34,621.85 424.58,617.53 424.82,612.84 425.07,607.82 425.31,602.52 425.55,597.02 425.79,591.37 426.04,585.64 426.28,579.88 426.52,574.17 426.76,568.56 427.01,563.13 427.25,557.94 427.49,553.05 427.73,548.51 427.98,544.38 428.22,540.71 428.46,537.55 428.70,534.92 428.95,532.86 429.19,531.41 429.43,530.58 429.67,530.38 429.92,530.81 430.16,531.89 430.40,533.59 430.64,535.90 430.89,538.80 431.13,542.26 431.37,546.23 431.61,550.69 431.86,555.58 432.10,560.84 432.34,566.42 432.58,572.26 432.83,578.29 433.07,584.44 433.31,590.65 433.55,596.84 433.80,602.94 434.04,608.88 434.28,614.60 434.52,620.02 434.77,625.09 435.01,629.75 435.25,633.93 435.49,637.59 435.74,640.69 435.98,643.19 436.22,645.05 436.46,646.26 436.71,646.79 436.95,646.64 437.19,645.80 437.43,644.28 437.68,642.10 437.92,639.28 438.16,635.84 438.40,631.82 438.65,627.27 438.89,622.24 439.13,616.77 439.37,610.94 439.62,604.80 439.86,598.43 440.10,591.89 440.34,585.27 440.59,578.63 440.83,572.04 441.07,565.60 441.32,559.36 441.56,553.41 441.80,547.80 442.04,542.62 442.29,537.91 442.53,533.73 442.77,530.14 443.01,527.17 443.26,524.87 443.50,523.25 443.74,522.35 443.98,522.18 444.23,522.74 444.47,524.02 444.71,526.03 444.95,528.72 445.20,532.09 445.44,536.09 445.68,540.68 445.92,545.81 446.17,551.42 446.41,557.46 446.65,563.84 446.89,570.52 447.14,577.40 447.38,584.41 447.62,591.47 447.86,598.50 448.11,605.42 448.35,612.15 448.59,618.62 448.83,624.75 449.08,630.46 449.32,635.70 449.56,640.39 449.80,644.49 450.05,647.95 450.29,650.71 450.53,652.76 450.77,654.06 451.02,654.60 451.26,654.37 451.50,653.36 451.74,651.59 451.99,649.07 452.23,645.83 452.47,641.90 452.71,637.33 452.96,632.17 453.20,626.47 453.44,620.29 453.68,613.71 453.93,606.80 454.17,599.63 454.41,592.29 454.65,584.86 454.90,577.42 455.14,570.06 455.38,562.86 455.62,555.91 455.87,549.29 456.11,543.06 456.35,537.31 456.59,532.10 456.84,527.50 457.08,523.55 457.32,520.30 457.56,517.80 457.81,516.07 458.05,515.13 458.29,515.01 458.53,515.69 458.78,517.19 459.02,519.47 459.26,522.53 459.50,526.32 459.75,530.81 459.99,535.95 460.23,541.67 460.47,547.92 460.72,554.63 460.96,561.72 461.20,569.11 461.44,576.72 461.69,584.46 461.93,592.25 462.17,599.99 462.41,607.61 462.66,615.00 462.90,622.09 463.14,628.79 463.38,635.03 463.63,640.73 463.87,645.84 464.11,650.28 464.35,654.01 464.60,656.98 464.84,659.16 465.08,660.51 465.32,661.03 465.57,660.70 465.81,659.53 466.05,657.53 466.29,654.71 466.54,651.11 466.78,646.76 467.02,641.73 467.26,636.05 467.51,629.79 467.75,623.03 467.99,615.84 468.23,608.29 468.48,600.49 468.72,592.50 468.96,584.43 469.20,576.37 469.45,568.40 469.69,560.62 469.93,553.12 470.17,545.98 470.42,539.28 470.66,533.11 470.90,527.54 471.14,522.62 471.39,518.41 471.63,514.98 471.87,512.35 472.11,510.55 472.36,509.62 472.60,509.56 472.84,510.37 473.08,512.05 473.33,514.58 473.57,517.93 473.81,522.06 474.05,526.94 474.30,532.50 474.54,538.69 474.78,545.43 475.03,552.65 475.27,560.26 475.51,568.19 475.75,576.34 476.00,584.62 476.24,592.93 476.48,601.19 476.72,609.29 476.97,617.14 477.21,624.66 477.45,631.76 477.69,638.36 477.94,644.37 478.18,649.74 478.42,654.40 478.66,658.29 478.91,661.37 479.15,663.61 479.39,664.97 479.63,665.45 479.88,665.02 480.12,663.71 480.36,661.51 480.60,658.47 480.85,654.59 481.09,649.94 481.33,644.57 481.57,638.53 481.82,631.88 482.06,624.72 482.30,617.11 482.54,609.15 482.79,600.91 483.03,592.51 483.27,584.03 483.51,575.56 483.76,567.22 484.00,559.08 484.24,551.24 484.48,543.80 484.73,536.83 484.97,530.42 485.21,524.65 485.45,519.57 485.70,515.24 485.94,511.72 486.18,509.05 486.42,507.25 486.67,506.35 486.91,506.37 487.15,507.29 487.39,509.11 487.64,511.81 487.88,515.37 488.12,519.73 488.36,524.86 488.61,530.69 488.85,537.15 489.09,544.19 489.33,551.70 489.58,559.62 489.82,567.85 490.06,576.29 490.30,584.86 490.55,593.45 490.79,601.96 491.03,610.30 491.27,618.38 491.52,626.10 491.76,633.37 492.00,640.12 492.24,646.25 492.49,651.72 492.73,656.44 492.97,660.37 493.21,663.46 493.46,665.68 493.70,667.01 493.94,667.42 494.18,666.91 494.43,665.48 494.67,663.16 494.91,659.97 495.15,655.94 495.40,651.13 495.64,645.58 495.88,639.36 496.12,632.53 496.37,625.19 496.61,617.40 496.85,609.26 497.09,600.87 497.34,592.31 497.58,583.68 497.82,575.09 498.06,566.63 498.31,558.39 498.55,550.47 498.79,542.96 499.03,535.95 499.28,529.51 499.52,523.72 499.76,518.64 500.00,514.34 500.25,510.85 500.49,508.22 500.73,506.49 500.97,505.66 501.22,505.75 501.46,506.75 501.70,508.66 501.94,511.46 502.19,515.10 502.43,519.56 502.67,524.77 502.91,530.68 503.16,537.22 503.40,544.32 503.64,551.90 503.88,559.86 504.13,568.12 504.37,576.59 504.61,585.16 504.85,593.74 505.10,602.24 505.34,610.55 505.58,618.59 505.82,626.26 506.07,633.47 506.31,640.14 506.55,646.20 506.79,651.57 507.04,656.21 507.28,660.05 507.52,663.05 507.76,665.18 508.01,666.42 508.25,666.75 508.49,666.16 508.73,664.68 508.98,662.31 509.22,659.08 509.46,655.02 509.71,650.20 509.95,644.66 510.19,638.46 510.43,631.68 510.68,624.39 510.92,616.68 511.16,608.64 511.40,600.35 511.65,591.92 511.89,583.43 512.13,574.99 512.37,566.69 512.62,558.62 512.86,550.88 513.10,543.55 513.34,536.72 513.59,530.46 513.83,524.84 514.07,519.93 514.31,515.79 514.56,512.45 514.80,509.95 515.04,508.33 515.28,507.60 515.53,507.76 515.77,508.82 516.01,510.75 516.25,513.55 516.50,517.16 516.74,521.56 516.98,526.69 517.22,532.49 517.47,538.89 517.71,545.82 517.95,553.20 518.19,560.95 518.44,568.98 518.68,577.19 518.92,585.50 519.16,593.80 519.41,602.00 519.65,610.02 519.89,617.75 520.13,625.12 520.38,632.03 520.62,638.42 520.86,644.21 521.10,649.33 521.35,653.72 521.59,657.35 521.83,660.17 522.07,662.15 522.32,663.26 522.56,663.50 522.80,662.87 523.04,661.37 523.29,659.03 523.53,655.87 523.77,651.93 524.01,647.25 524.26,641.89 524.50,635.92 524.74,629.40 524.98,622.41 525.23,615.02 525.47,607.33 525.71,599.42 525.95,591.37 526.20,583.29 526.44,575.27 526.68,567.39 526.92,559.75 527.17,552.42 527.41,545.50 527.65,539.06 527.89,533.18 528.14,527.91 528.38,523.32 528.62,519.46 528.86,516.36 529.11,514.07 529.35,512.61 529.59,511.99 529.83,512.21 530.08,513.28 530.32,515.17 530.56,517.87 530.80,521.34 531.05,525.54 531.29,530.42 531.53,535.93 531.77,541.99 532.02,548.54 532.26,555.50 532.50,562.80 532.74,570.34 532.99,578.05 533.23,585.83 533.47,593.60 533.71,601.27 533.96,608.75 534.20,615.95 534.44,622.80 534.68,629.22 534.93,635.13 535.17,640.48 535.41,645.20 535.65,649.23 535.90,652.55 536.14,655.11 536.38,656.88 536.62,657.85 536.87,658.00 537.11,657.35 537.35,655.89 537.59,653.65 537.84,650.66 538.08,646.95 538.32,642.57 538.56,637.56 538.81,631.99 539.05,625.92 539.29,619.43 539.53,612.58 539.78,605.46 540.02,598.15 540.26,590.73 540.50,583.29 540.75,575.90 540.99,568.67 541.23,561.66 541.47,554.95 541.72,548.63 541.96,542.75 542.20,537.40 542.44,532.61 542.69,528.46 542.93,524.98 543.17,522.20 543.42,520.17 543.66,518.90 543.90,518.39 544.14,518.66 544.39,519.70 544.63,521.49 544.87,524.01 545.11,527.23 545.36,531.12 545.60,535.61 545.84,540.66 546.08,546.22 546.33,552.21 546.57,558.57 546.81,565.22 547.05,572.08 547.30,579.09 547.54,586.15 547.78,593.18 548.02,600.12 548.27,606.87 548.51,613.36 548.75,619.53 548.99,625.29 549.24,630.60 549.48,635.38 549.72,639.59 549.96,643.18 550.21,646.11 550.45,648.36 550.69,649.90 550.93,650.71 551.18,650.79 551.42,650.14 551.66,648.77 551.90,646.71 552.15,643.96 552.39,640.58 552.63,636.60 552.87,632.07 553.12,627.05 553.36,621.58 553.60,615.74 553.84,609.59 554.09,603.21 554.33,596.67 554.57,590.04 554.81,583.40 555.06,576.82 555.30,570.39 555.54,564.16 555.78,558.21 556.03,552.61 556.27,547.42 556.51,542.70 556.75,538.49 557.00,534.85 557.24,531.81 557.48,529.40 557.72,527.65 557.97,526.58 558.21,526.18 558.45,526.48 558.69,527.45 558.94,529.09 559.18,531.37 559.42,534.26 559.66,537.74 559.91,541.75 560.15,546.24 560.39,551.17 560.63,556.48 560.88,562.11 561.12,567.98 561.36,574.03 561.60,580.20 561.85,586.41 562.09,592.59 562.33,598.66 562.57,604.58 562.82,610.25 563.06,615.63 563.30,620.66 563.54,625.27 563.79,629.42 564.03,633.06 564.27,636.16 564.51,638.68 564.76,640.59 565.00,641.89 565.24,642.54 565.48,642.56 565.73,641.95 565.97,640.71 566.21,638.86 566.45,636.43 566.70,633.45 566.94,629.94 567.18,625.97 567.42,621.57 567.67,616.79 567.91,611.70 568.15,606.35 568.39,600.80 568.64,595.11 568.88,589.36 569.12,583.61 569.36,577.93 569.61,572.36 569.85,566.99 570.09,561.87 570.33,557.06 570.58,552.60 570.82,548.56 571.06,544.96 571.30,541.86 571.55,539.27 571.79,537.24 572.03,535.78 572.27,534.89 572.52,534.60 572.76,534.90 573.00,535.78 573.24,537.23 573.49,539.23 573.73,541.75 573.97,544.77 574.21,548.24 574.46,552.13 574.70,556.38 574.94,560.95 575.18,565.78 575.43,570.83 575.67,576.02 575.91,581.30 576.15,586.61 576.40,591.88 576.64,597.07 576.88,602.11 577.12,606.94 577.37,611.51 577.61,615.78 577.85,619.68 578.10,623.19 578.34,626.26 578.58,628.87 578.82,630.98 579.07,632.57 579.31,633.63 579.55,634.16 579.79,634.14 580.04,633.58 580.28,632.49 580.52,630.88 580.76,628.79 581.01,626.23 581.25,623.23 581.49,619.83 581.73,616.08 581.98,612.01 582.22,607.68 582.46,603.14 582.70,598.43 582.95,593.62 583.19,588.75 583.43,583.89 583.67,579.09 583.92,574.40 584.16,569.87 584.40,565.56 584.64,561.51 584.89,557.77 585.13,554.38 585.37,551.38 585.61,548.78 585.86,546.63 586.10,544.95 586.34,543.75 586.58,543.03 586.83,542.82 587.07,543.10 587.31,543.86 587.55,545.11 587.80,546.82 588.04,548.97 588.28,551.53 588.52,554.46 588.77,557.75 589.01,561.34 589.25,565.19 589.49,569.26 589.74,573.50 589.98,577.86 590.22,582.29 590.46,586.75 590.71,591.17 590.95,595.51 591.19,599.73 591.43,603.77 591.68,607.58 591.92,611.14 592.16,614.40 592.40,617.32 592.65,619.87 592.89,622.03 593.13,623.78 593.37,625.09 593.62,625.95 593.86,626.37 594.10,626.33 594.34,625.84 594.59,624.91 594.83,623.55 595.07,621.78 595.31,619.62 595.56,617.10 595.80,614.25 596.04,611.10 596.28,607.69 596.53,604.06 596.77,600.26 597.01,596.32 597.25,592.30 597.50,588.24 597.74,584.18 597.98,580.17 598.22,576.26 598.47,572.48 598.71,568.89 598.95,565.52 599.19,562.41 599.44,559.59 599.68,557.09 599.92,554.94 600.16,553.16 600.41,551.76 600.65,550.77 600.89,550.19 601.13,550.02 601.38,550.27 601.62,550.92 601.86,551.98 602.10,553.41 602.35,555.22 602.59,557.36 602.83,559.83 603.07,562.58 603.32,565.58 603.56,568.81 603.80,572.21 604.04,575.76 604.29,579.41 604.53,583.11 604.77,586.84 605.01,590.54 605.26,594.17 605.50,597.69 605.74,601.07 605.98,604.26 606.23,607.23 606.47,609.95 606.71,612.39 606.95,614.53 607.20,616.33 607.44,617.79 607.68,618.88 607.92,619.61 608.17,619.95 608.41,619.91 608.65,619.50 608.89,618.71 609.14,617.57 609.38,616.08 609.62,614.26 609.86,612.14 610.11,609.74 610.35,607.10 610.59,604.23 610.83,601.18 611.08,597.97 611.32,594.66 611.56,591.27 611.81,587.84 612.05,584.42 612.29,581.04 612.53,577.74 612.78,574.55 613.02,571.52 613.26,568.67 613.50,566.03 613.75,563.65 613.99,561.53 614.23,559.70 614.47,558.19 614.72,557.01 614.96,556.16 615.20,555.66 615.44,555.51 615.69,555.72 615.93,556.27 616.17,557.16 616.41,558.38 616.66,559.91 616.90,561.73 617.14,563.82 617.38,566.17 617.63,568.73 617.87,571.48 618.11,574.38 618.35,577.41 618.60,580.54 618.84,583.71 619.08,586.90 619.32,590.08 619.57,593.19 619.81,596.22 620.05,599.13 620.29,601.88 620.54,604.45 620.78,606.81 621.02,608.92 621.26,610.77 621.51,612.34 621.75,613.61 621.99,614.58 622.23,615.21 622.48,615.53 622.72,615.51 622.96,615.16 623.20,614.50 623.45,613.52 623.69,612.23 623.93,610.66 624.17,608.82 624.42,606.74 624.66,604.44 624.90,601.94 625.14,599.27 625.39,596.47 625.63,593.56 625.87,590.59 626.11,587.58 626.36,584.56 626.60,581.58 626.84,578.66 627.08,575.84 627.33,573.15 627.57,570.61 627.81,568.27 628.05,566.13 628.30,564.23 628.54,562.59 628.78,561.23 629.02,560.15 629.27,559.37 629.51,558.91 629.75,558.75 629.99,558.91 630.24,559.38 630.48,560.16 630.72,561.23 630.96,562.59 631.21,564.21 631.45,566.09 631.69,568.18 631.93,570.49 632.18,572.97 632.42,575.59 632.66,578.34 632.90,581.17 633.15,584.06 633.39,586.97 633.63,589.87 633.87,592.73 634.12,595.51 634.36,598.19 634.60,600.73 634.84,603.11 635.09,605.29 635.33,607.26 635.57,609.00 635.81,610.47 636.06,611.68 636.30,612.60 636.54,613.22 636.78,613.54 637.03,613.55 637.27,613.26 637.51,612.66 637.75,611.77 638.00,610.60 638.24,609.15 638.48,607.45 638.72,605.51 638.97,603.35 639.21,601.01 639.45,598.50 639.69,595.86 639.94,593.11 640.18,590.29 640.42,587.42 640.66,584.55 640.91,581.70 641.15,578.90 641.39,576.18 641.63,573.59 641.88,571.13 642.12,568.86 642.36,566.78 642.60,564.92 642.85,563.30 643.09,561.95 643.33,560.88 643.57,560.09 643.82,559.60 644.06,559.42 644.30,559.54 644.54,559.97 644.79,560.70 645.03,561.72 645.27,563.02 645.51,564.59 645.76,566.41 646.00,568.47" fill="none" stroke="#1f1fff" stroke-width="1.45" stroke-linejoin="round"/>
<polyline points="68.50,586.50 69.07,585.49 69.65,579.23 70.22,573.66 70.79,569.19 71.36,566.07 71.94,564.38 72.51,563.96 73.08,564.17 73.65,564.46 74.23,564.76 74.80,565.05 75.37,565.33 75.94,565.61 76.52,565.89 77.09,566.16 77.66,566.43 78.23,566.70 78.81,566.96 79.38,567.22 79.95,567.47 80.52,567.73 81.10,567.98 81.67,568.22 82.24,568.46 82.81,568.70 83.39,568.94 83.96,569.17 84.53,569.40 85.10,567.65 85.68,564.30 86.25,562.47 86.82,562.02 87.39,562.25 87.97,562.57 88.54,562.88 89.11,563.20 89.69,563.51 90.26,563.81 90.83,564.11 91.40,564.41 91.98,564.70 92.55,564.99 93.12,565.28 93.69,565.56 94.27,565.84 94.84,566.11 95.41,566.38 95.98,566.65 96.56,566.91 97.13,567.17 97.70,567.43 98.27,567.68 98.85,567.90 99.42,564.05 99.99,560.20 100.56,558.13 101.14,557.66 101.71,557.95 102.28,558.33 102.85,558.70 103.43,559.07 104.00,559.44 104.57,559.80 105.14,560.15 105.72,560.50 106.29,560.84 106.86,561.19 107.43,561.52 108.01,561.85 108.58,562.18 109.15,562.50 109.73,562.82 110.30,563.13 110.87,563.44 111.44,563.75 112.02,564.05 112.59,564.35 113.16,564.46 113.73,558.67 114.31,554.15 114.88,551.78 115.45,551.32 116.02,551.71 116.60,552.18 117.17,552.63 117.74,553.08 118.31,553.52 118.89,553.96 119.46,554.39 120.03,554.82 120.60,555.24 121.18,555.65 121.75,556.06 122.32,556.47 122.89,556.86 123.47,557.26 124.04,557.64 124.61,558.03 125.18,558.40 125.76,558.78 126.33,559.15 126.90,559.51 127.47,559.37 128.05,552.00 128.62,546.72 129.19,544.03 129.77,543.62 130.34,544.14 130.91,544.70 131.48,545.26 132.06,545.80 132.63,546.34 133.20,546.87 133.77,547.40 134.35,547.92 134.92,548.43 135.49,548.93 136.06,549.43 136.64,549.92 137.21,550.41 137.78,550.89 138.35,551.36 138.93,551.83 139.50,552.29 140.07,552.74 140.64,553.19 141.22,553.63 141.79,553.40 142.36,544.69 142.93,538.62 143.51,535.64 144.08,535.33 144.65,535.97 145.22,536.64 145.80,537.30 146.37,537.96 146.94,538.60 147.52,539.23 148.09,539.86 148.66,540.48 149.23,541.09 149.81,541.69 150.38,542.29 150.95,542.87 151.52,543.45 152.10,544.02 152.67,544.59 153.24,545.14 153.81,545.69 154.39,546.23 154.96,546.76 155.53,547.29 156.10,547.26 156.68,537.43 157.25,530.64 157.82,527.43 158.39,527.25 158.97,528.01 159.54,528.79 160.11,529.55 160.68,530.31 161.26,531.05 161.83,531.79 162.40,532.52 162.97,533.23 163.55,533.94 164.12,534.63 164.69,535.32 165.26,536.00 165.84,536.67 166.41,537.33 166.98,537.98 167.56,538.63 168.13,539.26 168.70,539.89 169.27,540.51 169.85,541.12 170.42,541.47 170.99,530.93 171.56,523.56 172.14,520.22 172.71,520.18 173.28,521.05 173.85,521.92 174.43,522.77 175.00,523.62 175.57,524.45 176.14,525.27 176.72,526.09 177.29,526.89 177.86,527.68 178.43,528.46 179.01,529.23 179.58,529.99 180.15,530.74 180.72,531.47 181.30,532.20 181.87,532.92 182.44,533.63 183.01,534.34 183.59,535.03 184.16,535.71 184.73,536.33 185.30,525.81 185.88,518.08 186.45,514.71 187.02,514.81 187.60,515.76 188.17,516.69 188.74,517.62 189.31,518.53 189.89,519.43 190.46,520.32 191.03,521.20 191.60,522.07 192.18,522.92 192.75,523.76 193.32,524.60 193.89,525.42 194.47,526.23 195.04,527.03 195.61,527.81 196.18,528.59 196.76,529.36 197.33,530.12 197.90,530.87 198.47,531.60 199.05,532.33 199.62,522.59 200.19,514.74 200.76,511.44 201.34,511.67 201.91,512.66 202.48,513.64 203.05,514.60 203.63,515.56 204.20,516.50 204.77,517.43 205.34,518.34 205.92,519.25 206.49,520.14 207.06,521.02 207.64,521.89 208.21,522.74 208.78,523.59 209.35,524.42 209.93,525.25 210.50,526.06 211.07,526.86 211.64,527.65 212.22,528.43 212.79,529.20 213.36,529.96 213.93,521.58 214.51,513.85 215.08,510.73 215.65,511.06 216.22,512.06 216.80,513.05 217.37,514.02 217.94,514.98 218.51,515.93 219.09,516.87 219.66,517.79 220.23,518.70 220.80,519.60 221.38,520.49 221.95,521.36 222.52,522.23 223.09,523.08 223.67,523.92 224.24,524.75 224.81,525.57 225.38,526.38 225.96,527.17 226.53,527.96 227.10,528.74 227.68,529.50 228.25,522.87 228.82,515.51 229.39,512.65 229.97,513.05 230.54,514.02 231.11,514.98 231.68,515.93 232.26,516.86 232.83,517.79 233.40,518.70 233.97,519.60 234.55,520.48 235.12,521.36 235.69,522.22 236.26,523.08 236.84,523.92 237.41,524.75 237.98,525.57 238.55,526.37 239.13,527.17 239.70,527.96 240.27,528.73 240.84,529.50 241.42,530.26 241.99,531.00 242.56,526.33 243.13,519.56 243.71,517.01 244.28,517.43 244.85,518.34 245.42,519.25 246.00,520.14 246.57,521.02 247.14,521.89 247.72,522.74 248.29,523.59 248.86,524.42 249.43,525.25 250.01,526.06 250.58,526.86 251.15,527.65 251.72,528.43 252.30,529.20 252.87,529.96 253.44,530.71 254.01,531.45 254.59,532.18 255.16,532.90 255.73,533.61 256.30,534.31 256.88,531.63 257.45,525.58 258.02,523.37 258.59,523.78 259.17,524.61 259.74,525.43 260.31,526.24 260.88,527.04 261.46,527.82 262.03,528.60 262.60,529.37 263.17,530.13 263.75,530.87 264.32,531.61 264.89,532.34 265.46,533.06 266.04,533.77 266.61,534.47 267.18,535.16 267.76,535.84 268.33,536.51 268.90,537.17 269.47,537.83 270.05,538.47 270.62,539.11 271.19,538.20 271.76,532.98 272.34,531.10 272.91,531.47 273.48,532.20 274.05,532.92 274.63,533.63 275.20,534.33 275.77,535.02 276.34,535.70 276.92,536.38 277.49,537.04 278.06,537.70 278.63,538.34 279.21,538.98 279.78,539.61 280.35,540.23 280.92,540.85 281.50,541.45 282.07,542.05 282.64,542.64 283.21,543.22 283.79,543.79 284.36,544.36 284.93,544.92 285.51,545.10 286.08,541.03 286.65,539.45 287.22,539.75 287.80,540.37 288.37,540.98 288.94,541.58 289.51,542.18 290.09,542.77 290.66,543.35 291.23,543.92 291.80,544.48 292.38,545.04 292.95,545.59 293.52,546.13 294.09,546.67 294.67,547.20 295.24,547.72 295.81,548.23 296.38,548.74 296.96,549.24 297.53,549.73 298.10,550.22 298.67,550.70 299.25,551.18 299.82,551.56 300.39,548.91 300.96,547.59 301.54,547.81 302.11,548.32 302.68,548.83 303.25,549.33 303.83,549.82 304.40,550.31 304.97,550.79 305.55,551.26 306.12,551.73 306.69,552.19 307.26,552.65 307.84,553.09 308.41,553.54 308.98,553.98 309.55,554.41 310.13,554.83 310.70,555.25 311.27,555.67 311.84,556.08 312.42,556.48 312.99,556.88 313.56,557.27 314.13,557.61 314.71,555.85 315.28,554.73 315.85,554.87 316.42,555.29 317.00,555.70 317.57,556.11 318.14,556.51 318.71,556.91 319.29,557.30 319.86,557.69 320.43,558.07 321.00,558.45 321.58,558.82 322.15,559.19 322.72,559.55 323.29,559.91 323.87,560.26 324.44,560.61 325.01,560.95 325.59,561.29 326.16,561.62 326.73,561.95 327.30,562.28 327.88,562.60 328.45,562.83 329.02,561.17 329.59,560.16 330.17,560.24 330.74,560.58 331.31,560.92 331.88,561.26 332.46,561.60 333.03,561.93 333.60,562.25 334.17,562.57 334.75,562.89 335.32,563.20 335.89,563.51 336.46,563.82 337.04,564.12 337.61,564.42 338.18,564.71 338.75,565.00 339.33,565.28 339.90,565.56 340.47,565.84 341.04,566.12 341.62,566.39 342.19,566.65 342.76,566.46 343.33,564.35 343.91,563.37 344.48,563.40 345.05,563.69 345.63,563.99 346.20,564.29 346.77,564.58 347.34,564.87 347.92,565.16 348.49,565.44 349.06,565.72 349.63,566.00 350.21,566.27 350.78,566.54 351.35,566.80 351.92,567.07 352.50,567.32 353.07,567.58 353.64,567.83 354.21,568.08 354.79,568.32 355.36,568.56 355.93,568.80 356.50,569.03 357.08,567.43 357.65,565.05 358.22,564.04 358.79,564.04 359.37,564.32 359.94,564.61 360.51,564.90 361.08,565.19 361.66,565.47 362.23,565.75 362.80,566.02 363.37,566.30 363.95,566.56 364.52,566.83 365.09,567.09 365.67,567.35 366.24,567.60 366.81,567.85 367.38,568.10 367.96,568.34 368.53,568.58 369.10,568.82 369.67,569.06 370.25,569.29 370.82,569.30 371.39,565.79 371.96,563.19 372.54,562.10 373.11,562.10 373.68,562.41 374.25,562.73 374.83,563.04 375.40,563.35 375.97,563.66 376.54,563.96 377.12,564.26 377.69,564.56 378.26,564.85 378.83,565.13 379.41,565.42 379.98,565.70 380.55,565.97 381.12,566.25 381.70,566.51 382.27,566.78 382.84,567.04 383.41,567.30 383.99,567.55 384.56,567.80 385.13,566.57 385.71,561.91 386.28,558.95 386.85,557.73 387.42,557.77 388.00,558.14 388.57,558.52 389.14,558.89 389.71,559.26 390.29,559.62 390.86,559.97 391.43,560.33 392.00,560.67 392.58,561.02 393.15,561.35 393.72,561.69 394.29,562.02 394.87,562.34 395.44,562.66 396.01,562.98 396.58,563.29 397.16,563.60 397.73,563.90 398.30,564.20 398.87,564.50 399.45,561.68 400.02,556.15 400.59,552.70 401.16,551.36 401.74,551.49 402.31,551.95 402.88,552.40 403.45,552.86 404.03,553.30 404.60,553.74 405.17,554.18 405.75,554.61 406.32,555.03 406.89,555.45 407.46,555.86 408.04,556.26 408.61,556.67 409.18,557.06 409.75,557.45 410.33,557.84 410.90,558.22 411.47,558.59 412.04,558.96 412.62,559.33 413.19,559.69 413.76,555.56 414.33,549.04 414.91,545.05 415.48,543.60 416.05,543.86 416.62,544.42 417.20,544.98 417.77,545.53 418.34,546.07 418.91,546.61 419.49,547.14 420.06,547.66 420.63,548.18 421.20,548.68 421.78,549.18 422.35,549.68 422.92,550.17 423.49,550.65 424.07,551.13 424.64,551.59 425.21,552.06 425.79,552.51 426.36,552.96 426.93,553.41 427.50,553.85 428.08,548.82 428.65,541.28 429.22,536.74 429.79,535.23 430.37,535.63 430.94,536.31 431.51,536.97 432.08,537.63 432.66,538.28 433.23,538.92 433.80,539.55 434.37,540.17 434.95,540.79 435.52,541.39 436.09,541.99 436.66,542.58 437.24,543.16 437.81,543.74 438.38,544.30 438.95,544.86 439.53,545.42 440.10,545.96 440.67,546.50 441.24,547.03 441.82,547.55 442.39,542.09 442.96,533.60 443.54,528.59 444.11,527.07 444.68,527.62 445.25,528.40 445.83,529.17 446.40,529.93 446.97,530.68 447.54,531.42 448.12,532.15 448.69,532.87 449.26,533.59 449.83,534.29 450.41,534.98 450.98,535.66 451.55,536.34 452.12,537.00 452.70,537.66 453.27,538.31 453.84,538.95 454.41,539.58 454.99,540.20 455.56,540.81 456.13,541.42 456.70,536.03 457.28,526.75 457.85,521.39 458.42,519.92 458.99,520.61 459.57,521.48 460.14,522.34 460.71,523.20 461.28,524.03 461.86,524.86 462.43,525.68 463.00,526.49 463.58,527.28 464.15,528.07 464.72,528.84 465.29,529.61 465.87,530.36 466.44,531.11 467.01,531.84 467.58,532.57 468.16,533.28 468.73,533.99 469.30,534.68 469.87,535.37 470.45,536.05 471.02,531.23 471.59,521.41 472.16,515.86 472.74,514.48 473.31,515.28 473.88,516.23 474.45,517.16 475.03,518.08 475.60,518.98 476.17,519.88 476.74,520.76 477.32,521.64 477.89,522.50 478.46,523.34 479.03,524.18 479.61,525.01 480.18,525.82 480.75,526.63 481.32,527.42 481.90,528.21 482.47,528.98 483.04,529.74 483.62,530.49 484.19,531.24 484.76,531.97 485.33,528.16 485.91,518.10 486.48,512.53 487.05,511.29 487.62,512.16 488.20,513.15 488.77,514.12 489.34,515.08 489.91,516.03 490.49,516.96 491.06,517.89 491.63,518.80 492.20,519.69 492.78,520.58 493.35,521.45 493.92,522.32 494.49,523.17 495.07,524.01 495.64,524.84 496.21,525.65 496.78,526.46 497.36,527.26 497.93,528.04 498.50,528.82 499.07,529.58 499.65,527.10 500.22,517.14 500.79,511.73 501.36,510.65 501.94,511.56 502.51,512.56 503.08,513.54 503.66,514.50 504.23,515.46 504.80,516.40 505.37,517.33 505.95,518.25 506.52,519.15 507.09,520.04 507.66,520.93 508.24,521.80 508.81,522.65 509.38,523.50 509.95,524.34 510.53,525.16 511.10,525.97 511.67,526.78 512.24,527.57 512.82,528.35 513.39,529.12 513.96,528.16 514.53,518.63 515.11,513.54 515.68,512.63 516.25,513.53 516.82,514.50 517.40,515.46 517.97,516.40 518.54,517.33 519.11,518.24 519.69,519.15 520.26,520.04 520.83,520.92 521.40,521.79 521.98,522.65 522.55,523.50 523.12,524.33 523.70,525.16 524.27,525.97 524.84,526.77 525.41,527.57 525.99,528.35 526.56,529.12 527.13,529.88 527.70,530.63 528.28,530.95 528.85,522.41 529.42,517.78 529.99,517.03 530.57,517.89 531.14,518.80 531.71,519.69 532.28,520.58 532.86,521.45 533.43,522.32 534.00,523.17 534.57,524.01 535.15,524.84 535.72,525.65 536.29,526.46 536.86,527.26 537.44,528.04 538.01,528.82 538.58,529.58 539.15,530.34 539.73,531.08 540.30,531.82 540.87,532.54 541.44,533.26 542.02,533.96 542.59,534.62 543.16,528.12 543.74,524.02 544.31,523.41 544.88,524.19 545.45,525.02 546.03,525.83 546.60,526.64 547.17,527.43 547.74,528.21 548.32,528.99 548.89,529.75 549.46,530.50 550.03,531.24 550.61,531.98 551.18,532.70 551.75,533.41 552.32,534.12 552.90,534.81 553.47,535.50 554.04,536.17 554.61,536.84 555.19,537.50 555.76,538.15 556.33,538.79 556.90,539.42 557.48,535.17 558.05,531.65 558.62,531.15 559.19,531.83 559.77,532.56 560.34,533.27 560.91,533.98 561.48,534.67 562.06,535.36 562.63,536.04 563.20,536.71 563.78,537.37 564.35,538.02 564.92,538.66 565.49,539.30 566.07,539.92 566.64,540.54 567.21,541.15 567.78,541.75 568.36,542.35 568.93,542.93 569.50,543.51 570.07,544.08 570.65,544.64 571.22,545.20 571.79,542.87 572.36,539.91 572.94,539.49 573.51,540.06 574.08,540.67 574.65,541.28 575.23,541.88 575.80,542.47 576.37,543.06 576.94,543.63 577.52,544.20 578.09,544.76 578.66,545.32 579.23,545.86 579.81,546.40 580.38,546.93 580.95,547.46 581.53,547.98 582.10,548.49 582.67,548.99 583.24,549.49 583.82,549.98 584.39,550.46 584.96,550.94 585.53,551.41 586.11,550.42 586.68,547.98 587.25,547.61 587.82,548.07 588.40,548.58 588.97,549.08 589.54,549.58 590.11,550.07 590.69,550.55 591.26,551.03 591.83,551.50 592.40,551.96 592.98,552.42 593.55,552.87 594.12,553.32 594.69,553.76 595.27,554.19 595.84,554.62 596.41,555.04 596.98,555.46 597.56,555.87 598.13,556.28 598.70,556.68 599.27,557.07 599.85,557.46 600.42,557.02 600.99,555.07 601.57,554.72 602.14,555.08 602.71,555.49 603.28,555.90 603.86,556.31 604.43,556.71 605.00,557.11 605.57,557.50 606.15,557.88 606.72,558.26 607.29,558.63 607.86,559.00 608.44,559.37 609.01,559.73 609.58,560.08 610.15,560.43 610.73,560.78 611.30,561.12 611.87,561.46 612.44,561.79 613.02,562.12 613.59,562.44 614.16,562.76 614.73,562.18 615.31,560.49 615.88,560.12 616.45,560.40 617.02,560.75 617.60,561.09 618.17,561.43 618.74,561.76 619.31,562.09 619.89,562.41 620.46,562.73 621.03,563.05 621.61,563.36 622.18,563.67 622.75,563.97 623.32,564.27 623.90,564.56 624.47,564.85 625.04,565.14 625.61,565.42 626.19,565.70 626.76,565.98 627.33,566.25 627.90,566.52 628.48,566.76 629.05,565.35 629.62,563.70 630.19,563.31 630.77,563.54 631.34,563.84 631.91,564.14 632.48,564.44 633.06,564.73 633.63,565.02 634.20,565.30 634.77,565.58 635.35,565.86 635.92,566.14 636.49,566.41 637.06,566.67 637.64,566.94 638.21,567.20 638.78,567.45 639.35,567.70 639.93,567.95 640.50,568.20" fill="none" stroke="#f01818" stroke-width="1.5" stroke-linejoin="round"/>
<rect x="68" y="678" width="1.3" height="5" fill="#000"/>
<rect x="68" y="485" width="1.3" height="5" fill="#000"/>
<rect x="182" y="678" width="1.3" height="5" fill="#000"/>
<rect x="182" y="485" width="1.3" height="5" fill="#000"/>
<rect x="297" y="678" width="1.3" height="5" fill="#000"/>
<rect x="297" y="485" width="1.3" height="5" fill="#000"/>
<rect x="411" y="678" width="1.3" height="5" fill="#000"/>
<rect x="411" y="485" width="1.3" height="5" fill="#000"/>
<rect x="526" y="678" width="1.3" height="5" fill="#000"/>
<rect x="526" y="485" width="1.3" height="5" fill="#000"/>
<rect x="640" y="678" width="1.3" height="5" fill="#000"/>
<rect x="640" y="485" width="1.3" height="5" fill="#000"/>
<rect x="64" y="667" width="5" height="1.3" fill="#000"/>
<rect x="641" y="667" width="5" height="1.3" fill="#000"/>
<rect x="64" y="640" width="5" height="1.3" fill="#000"/>
<rect x="641" y="640" width="5" height="1.3" fill="#000"/>
<rect x="64" y="613" width="5" height="1.3" fill="#000"/>
<rect x="641" y="613" width="5" height="1.3" fill="#000"/>
<rect x="64" y="586" width="5" height="1.3" fill="#000"/>
<rect x="641" y="586" width="5" height="1.3" fill="#000"/>
<rect x="64" y="559" width="5" height="1.3" fill="#000"/>
<rect x="641" y="559" width="5" height="1.3" fill="#000"/>
<rect x="64" y="532" width="5" height="1.3" fill="#000"/>
<rect x="641" y="532" width="5" height="1.3" fill="#000"/>
<rect x="64" y="505" width="5" height="1.3" fill="#000"/>
<rect x="641" y="505" width="5" height="1.3" fill="#000"/>
<rect x="63.6" y="484.6" width="582.8" height="198.8" fill="none" stroke="#000" stroke-width="1.2"/>
<text x="287.27" y="472.60" font-size="16" textLength="134.20" lengthAdjust="spacingAndGlyphs" fill="#000" style="font-family:'Liberation Sans',sans-serif">Amplitude detector</text>
<text x="36.59" y="671.60" font-size="12.5" text-anchor="start" fill="#000" style="font-family:'Liberation Sans',sans-serif" >-7,5</text>
<text x="47.01" y="644.60" font-size="12.5" text-anchor="start" fill="#000" style="font-family:'Liberation Sans',sans-serif" >-5</text>
<text x="36.59" y="617.60" font-size="12.5" text-anchor="start" fill="#000" style="font-family:'Liberation Sans',sans-serif" >-2,5</text>
<text x="51.14" y="590.60" font-size="12.5" text-anchor="start" fill="#000" style="font-family:'Liberation Sans',sans-serif" >0</text>
<text x="40.75" y="563.60" font-size="12.5" text-anchor="start" fill="#000" style="font-family:'Liberation Sans',sans-serif" >2,5</text>
<text x="51.17" y="536.60" font-size="12.5" text-anchor="start" fill="#000" style="font-family:'Liberation Sans',sans-serif" >5</text>
<text x="40.75" y="509.60" font-size="12.5" text-anchor="start" fill="#000" style="font-family:'Liberation Sans',sans-serif" >7,5</text>
<text transform="translate(27.00,609.10) rotate(-90)" x="-0.87" y="0" font-size="13.5" textLength="55.03" lengthAdjust="spacingAndGlyphs" fill="#000" style="font-family:'Liberation Sans',sans-serif">uout(t), V</text>
<text x="68.50" y="703.30" font-size="12.5" text-anchor="middle" fill="#000" style="font-family:'Liberation Sans',sans-serif" >0</text>
<text x="160.79" y="703.30" font-size="12.5" text-anchor="start" fill="#000" style="font-family:'Liberation Sans',sans-serif" >4</text>
<rect x="171.00" y="699.00" width="2.00" height="1.00" fill="#333"/>
<text x="176.02" y="703.30" font-size="12.5" text-anchor="start" fill="#000" style="font-family:'Liberation Sans',sans-serif" >10</text>
<text x="193.18" y="698.10" font-size="12.5" text-anchor="start" fill="#000" style="font-family:'Liberation Sans',sans-serif" >-4</text>
<text x="275.75" y="703.30" font-size="12.5" text-anchor="start" fill="#000" style="font-family:'Liberation Sans',sans-serif" >8</text>
<rect x="286.00" y="699.00" width="2.00" height="1.00" fill="#333"/>
<text x="290.80" y="703.30" font-size="12.5" text-anchor="start" fill="#000" style="font-family:'Liberation Sans',sans-serif" >10</text>
<text x="307.96" y="698.10" font-size="12.5" text-anchor="start" fill="#000" style="font-family:'Liberation Sans',sans-serif" >-4</text>
<text x="384.46" y="703.30" font-size="12.5" text-anchor="start" fill="#000" style="font-family:'Liberation Sans',sans-serif" >1,2</text>
<rect x="405.00" y="699.00" width="2.00" height="1.00" fill="#333"/>
<text x="409.86" y="703.30" font-size="12.5" text-anchor="start" fill="#000" style="font-family:'Liberation Sans',sans-serif" >10</text>
<text x="427.02" y="698.10" font-size="12.5" text-anchor="start" fill="#000" style="font-family:'Liberation Sans',sans-serif" >-3</text>
<text x="499.42" y="703.30" font-size="12.5" text-anchor="start" fill="#000" style="font-family:'Liberation Sans',sans-serif" >1,6</text>
<rect x="520.00" y="699.00" width="2.00" height="1.00" fill="#333"/>
<text x="524.90" y="703.30" font-size="12.5" text-anchor="start" fill="#000" style="font-family:'Liberation Sans',sans-serif" >10</text>
<text x="542.06" y="698.10" font-size="12.5" text-anchor="start" fill="#000" style="font-family:'Liberation Sans',sans-serif" >-3</text>
<text x="618.84" y="703.30" font-size="12.5" text-anchor="start" fill="#000" style="font-family:'Liberation Sans',sans-serif" >2</text>
<rect x="629.00" y="699.00" width="2.00" height="1.00" fill="#333"/>
<text x="633.81" y="703.30" font-size="12.5" text-anchor="start" fill="#000" style="font-family:'Liberation Sans',sans-serif" >10</text>
<text x="650.97" y="698.10" font-size="12.5" text-anchor="start" fill="#000" style="font-family:'Liberation Sans',sans-serif" >-3</text>
<text x="344.69" y="721.00" font-size="13" textLength="18.93" lengthAdjust="spacingAndGlyphs" fill="#000" style="font-family:'Liberation Sans',sans-serif">t, s</text>
<line x1="313.1" y1="637.5" x2="344" y2="637.5" stroke="#1f1fff" stroke-width="1.3" />
<line x1="313.1" y1="659.5" x2="344" y2="659.5" stroke="#f01818" stroke-width="1.3" />
<text x="349.91" y="641.00" font-size="13" textLength="31.35" lengthAdjust="spacingAndGlyphs" fill="#000" style="font-family:'Liberation Sans',sans-serif">uin(t)</text>
<text x="349.88" y="663.00" font-size="13" textLength="39.54" lengthAdjust="spacingAndGlyphs" fill="#000" style="font-family:'Liberation Sans',sans-serif">uout[t]</text>
<g class="m">
<text x="10.05" y="15" font-size="12.0" letter-spacing="0.35" transform="matrix(1.06,0,0,1,-0.65,0)">appVersion</text>
<path d="M95.60,5.20 Q92.00,11.95 95.60,18.70" fill="none" stroke="#000" stroke-width="1.2"/>
<text x="99.40" y="15" font-size="12.0" letter-spacing="0.35" transform="matrix(1.06,0,0,1,-6.00,0)">4</text>
<path d="M109.50,5.20 Q113.30,11.95 109.50,18.70" fill="none" stroke="#000" stroke-width="1.2"/>
<rect x="116.00" y="9.00" width="10.00" height="1.00" fill="#000"/>
<rect x="116.00" y="12.00" width="10.00" height="1.00" fill="#000"/>
<text x="128.28" y="15" font-size="12.0" letter-spacing="0.35" fill="#a01818" style="color:#a01818" transform="matrix(1.06,0,0,1,-7.79,0)">&quot;O.99.6884.37264&quot;</text>
<text x="10.07" y="50" font-size="12.0" letter-spacing="0.35" font-style="italic" transform="matrix(1.06,0,0,1,-0.62,0)">R</text>
<text x="18.55" y="55.7" font-size="10.0" letter-spacing="0.29" font-style="italic" transform="matrix(1.06,0,0,1,-1.13,0)">1</text>
<rect x="30.00" y="44.00" width="1.70" height="1.00" fill="#444"/>
<rect x="30.00" y="47.00" width="1.70" height="1.00" fill="#444"/>
<rect x="33.40" y="44.00" width="8.30" height="1.00" fill="#000"/>
<rect x="33.40" y="47.00" width="8.30" height="1.00" fill="#000"/>
<text x="43.63" y="50" font-size="12.0" letter-spacing="0.35" transform="matrix(1.06,0,0,1,-2.67,0)">1OO</text>
<text x="100.12" y="50" font-size="12.0" letter-spacing="0.35" font-style="italic" transform="matrix(1.06,0,0,1,-6.05,0)">C</text>
<text x="108.55" y="55.7" font-size="10.0" letter-spacing="0.29" font-style="italic" transform="matrix(1.06,0,0,1,-6.53,0)">1</text>
<rect x="120.00" y="44.00" width="1.70" height="1.00" fill="#444"/>
<rect x="120.00" y="47.00" width="1.70" height="1.00" fill="#444"/>
<rect x="123.40" y="44.00" width="7.30" height="1.00" fill="#000"/>
<rect x="123.40" y="47.00" width="7.30" height="1.00" fill="#000"/>
<text x="133.13" y="50" font-size="12.0" letter-spacing="0.35" transform="matrix(1.06,0,0,1,-8.04,0)">1.5</text>
<rect x="162.00" y="46.00" width="2.00" height="1.00" fill="#333"/>
<text x="166.23" y="50" font-size="12.0" letter-spacing="0.35" transform="matrix(1.06,0,0,1,-10.03,0)">1O</text>
<rect x="186.00" y="37.00" width="8.00" height="1.00" fill="#000"/>
<text x="196.12" y="41" font-size="12.0" letter-spacing="0.35" transform="matrix(1.06,0,0,1,-11.82,0)">6</text>
<text x="10.43" y="86" font-size="12.0" letter-spacing="0.35" font-style="italic" transform="matrix(1.06,0,0,1,-0.66,0)">I</text>
<text x="18.00" y="91.9" font-size="10.0" letter-spacing="0.29" font-style="italic" transform="matrix(1.06,0,0,1,-1.11,0)">O</text>
<rect x="30.00" y="80.00" width="1.70" height="1.00" fill="#444"/>
<rect x="30.00" y="83.00" width="1.70" height="1.00" fill="#444"/>
<rect x="33.40" y="80.00" width="8.30" height="1.00" fill="#000"/>
<rect x="33.40" y="83.00" width="8.30" height="1.00" fill="#000"/>
<text x="43.73" y="86" font-size="12.0" letter-spacing="0.35" transform="matrix(1.06,0,0,1,-2.68,0)">1</text>
<rect x="56.00" y="82.00" width="2.00" height="1.00" fill="#333"/>
<text x="59.43" y="86" font-size="12.0" letter-spacing="0.35" transform="matrix(1.06,0,0,1,-3.62,0)">1O</text>
<rect x="80.00" y="73.00" width="8.00" height="1.00" fill="#000"/>
<text x="90.25" y="77" font-size="12.0" letter-spacing="0.35" transform="matrix(1.06,0,0,1,-5.46,0)">5</text>
<text x="10.78" y="123" font-size="12.0" letter-spacing="0.35" font-style="italic" transform="matrix(1.06,0,0,1,-0.66,0)">i</text>
<path d="M26.40,112.70 Q22.20,119.80 26.40,126.90" fill="none" stroke="#000" stroke-width="1.2"/>
<text x="28.91" y="123" font-size="12.0" letter-spacing="0.35" font-style="italic" transform="matrix(1.06,0,0,1,-1.78,0)">u</text>
<path d="M41.50,112.70 Q45.30,119.80 41.50,126.90" fill="none" stroke="#000" stroke-width="1.2"/>
<rect x="48.00" y="117.00" width="1.70" height="1.00" fill="#444"/>
<rect x="48.00" y="120.00" width="1.70" height="1.00" fill="#444"/>
<rect x="51.40" y="117.00" width="8.30" height="1.00" fill="#000"/>
<rect x="51.40" y="120.00" width="8.30" height="1.00" fill="#000"/>
<text x="63.43" y="123" font-size="12.0" letter-spacing="0.35" font-style="italic" transform="matrix(1.06,0,0,1,-3.84,0)">I</text>
<text x="71.00" y="128.4" font-size="10.0" letter-spacing="0.29" font-style="italic" transform="matrix(1.06,0,0,1,-4.29,0)">O</text>
<rect x="82.00" y="119.00" width="2.00" height="1.00" fill="#333"/>
<path d="M90.70,103.40 Q86.10,120.00 90.70,136.60" fill="none" stroke="#000" stroke-width="1.2"/>
<text x="92.72" y="123" font-size="12.0" letter-spacing="0.35" transform="matrix(1.06,0,0,1,-5.61,0)">exp</text>
<path d="M123.90,104.50 Q119.50,120.00 123.90,135.50" fill="none" stroke="#000" stroke-width="1.2"/>
<rect x="127.00" y="119.00" width="33.00" height="1.00" fill="#000"/>
<text x="138.91" y="114.5" font-size="12.0" letter-spacing="0.35" font-style="italic" transform="matrix(1.06,0,0,1,-8.38,0)">u</text>
<text x="128.40" y="131.5" font-size="12.0" letter-spacing="0.35" transform="matrix(1.06,0,0,1,-7.74,0)">O.O5</text>
<path d="M164.50,104.50 Q169.30,120.00 164.50,135.50" fill="none" stroke="#000" stroke-width="1.2"/>
<rect x="172.00" y="119.00" width="8.00" height="1.00" fill="#000"/>
<text x="181.93" y="123" font-size="12.0" letter-spacing="0.35" transform="matrix(1.06,0,0,1,-10.97,0)">1</text>
<path d="M192.30,103.40 Q196.50,120.00 192.30,136.60" fill="none" stroke="#000" stroke-width="1.2"/>
<text x="10.03" y="176" font-size="12.0" letter-spacing="0.35" font-style="italic" transform="matrix(1.06,0,0,1,-0.68,0)">f</text>
<rect x="24.00" y="170.00" width="1.70" height="1.00" fill="#444"/>
<rect x="24.00" y="173.00" width="1.70" height="1.00" fill="#444"/>
<rect x="27.40" y="170.00" width="8.30" height="1.00" fill="#000"/>
<rect x="27.40" y="173.00" width="8.30" height="1.00" fill="#000"/>
<text x="37.36" y="176" font-size="12.0" letter-spacing="0.35" transform="matrix(1.06,0,0,1,-2.29,0)">2O</text>
<rect x="57.00" y="172.00" width="2.00" height="1.00" fill="#333"/>
<text x="61.53" y="176" font-size="12.0" letter-spacing="0.35" transform="matrix(1.06,0,0,1,-3.74,0)">1O</text>
<text x="80.45" y="167" font-size="12.0" letter-spacing="0.35" transform="matrix(1.06,0,0,1,-4.87,0)">3</text>
<text x="109.28" y="176" font-size="12.0" letter-spacing="0.35" font-style="italic" transform="matrix(1.06,0,0,1,-6.59,0)">F</text>
<rect x="123.00" y="170.00" width="1.70" height="1.00" fill="#444"/>
<rect x="123.00" y="173.00" width="1.70" height="1.00" fill="#444"/>
<rect x="126.40" y="170.00" width="7.30" height="1.00" fill="#000"/>
<rect x="126.40" y="173.00" width="7.30" height="1.00" fill="#000"/>
<text x="137.63" y="176" font-size="12.0" letter-spacing="0.35" transform="matrix(1.06,0,0,1,-8.31,0)">1</text>
<rect x="148.00" y="172.00" width="2.00" height="1.00" fill="#333"/>
<text x="151.93" y="176" font-size="12.0" letter-spacing="0.35" transform="matrix(1.06,0,0,1,-9.17,0)">1O</text>
<text x="171.25" y="167" font-size="12.0" letter-spacing="0.35" transform="matrix(1.06,0,0,1,-10.32,0)">3</text>
<text x="208.36" y="176" font-size="12.0" letter-spacing="0.35" font-style="italic" transform="matrix(1.06,0,0,1,-12.54,0)">Um</text>
<rect x="228.00" y="170.00" width="1.70" height="1.00" fill="#444"/>
<rect x="228.00" y="173.00" width="1.70" height="1.00" fill="#444"/>
<rect x="231.40" y="170.00" width="8.30" height="1.00" fill="#000"/>
<rect x="231.40" y="173.00" width="8.30" height="1.00" fill="#000"/>
<text x="244.25" y="176" font-size="12.0" letter-spacing="0.35" transform="matrix(1.06,0,0,1,-14.70,0)">5</text>
<text x="280.60" y="176" font-size="12.0" letter-spacing="0.35" font-style="italic" transform="matrix(1.06,0,0,1,-16.84,0)">ma</text>
<rect x="301.00" y="170.00" width="1.70" height="1.00" fill="#444"/>
<rect x="301.00" y="173.00" width="1.70" height="1.00" fill="#444"/>
<rect x="304.40" y="170.00" width="9.30" height="1.00" fill="#000"/>
<rect x="304.40" y="173.00" width="9.30" height="1.00" fill="#000"/>
<text x="315.80" y="176" font-size="12.0" letter-spacing="0.35" transform="matrix(1.06,0,0,1,-18.98,0)">O.5</text>
<text x="370.15" y="176" font-size="12.0" letter-spacing="0.35" font-style="italic" transform="matrix(1.06,0,0,1,-22.22,0)">ω</text>
<rect x="382.00" y="170.00" width="1.70" height="1.00" fill="#444"/>
<rect x="382.00" y="173.00" width="1.70" height="1.00" fill="#444"/>
<rect x="385.40" y="170.00" width="9.30" height="1.00" fill="#000"/>
<rect x="385.40" y="173.00" width="9.30" height="1.00" fill="#000"/>
<text x="398.16" y="176" font-size="12.0" letter-spacing="0.35" transform="matrix(1.06,0,0,1,-23.94,0)">2</text>
<rect x="410.00" y="172.00" width="2.00" height="1.00" fill="#333"/>
<text x="414.37" y="176" font-size="12.0" letter-spacing="0.35" font-weight="bold" transform="matrix(1.06,0,0,1,-24.87,0)">π</text>
<rect x="426.00" y="172.00" width="2.00" height="1.00" fill="#333"/>
<text x="429.53" y="176" font-size="12.0" letter-spacing="0.35" font-style="italic" transform="matrix(1.06,0,0,1,-25.85,0)">f</text>
<text x="487.77" y="176" font-size="12.0" letter-spacing="0.35" font-style="italic" transform="matrix(1.06,0,0,1,-29.25,0)">Ω</text>
<rect x="501.00" y="170.00" width="1.70" height="1.00" fill="#444"/>
<rect x="501.00" y="173.00" width="1.70" height="1.00" fill="#444"/>
<rect x="504.40" y="170.00" width="8.30" height="1.00" fill="#000"/>
<rect x="504.40" y="173.00" width="8.30" height="1.00" fill="#000"/>
<text x="515.36" y="176" font-size="12.0" letter-spacing="0.35" transform="matrix(1.06,0,0,1,-30.97,0)">2</text>
<rect x="527.00" y="172.00" width="2.00" height="1.00" fill="#333"/>
<text x="531.67" y="176" font-size="12.0" letter-spacing="0.35" font-weight="bold" transform="matrix(1.06,0,0,1,-31.91,0)">π</text>
<rect x="543.00" y="172.00" width="2.00" height="1.00" fill="#333"/>
<text x="547.48" y="176" font-size="12.0" letter-spacing="0.35" font-style="italic" transform="matrix(1.06,0,0,1,-32.88,0)">F</text>
<text x="10.21" y="204" font-size="12.0" letter-spacing="0.35" font-style="italic" transform="matrix(1.06,0,0,1,-0.66,0)">u</text>
<text x="18.01" y="210" font-size="10.0" letter-spacing="0.29" font-style="italic" transform="matrix(1.06,0,0,1,-1.09,0)">in</text>
<path d="M38.90,195.80 Q34.50,202.40 38.90,209.00" fill="none" stroke="#000" stroke-width="1.2"/>
<text x="41.73" y="204" font-size="12.0" letter-spacing="0.35" font-style="italic" transform="matrix(1.06,0,0,1,-2.60,0)">t</text>
<path d="M55.10,195.80 Q59.70,202.40 55.10,209.00" fill="none" stroke="#000" stroke-width="1.2"/>
<rect x="61.00" y="198.00" width="1.70" height="1.00" fill="#444"/>
<rect x="61.00" y="201.00" width="1.70" height="1.00" fill="#444"/>
<rect x="64.40" y="198.00" width="9.30" height="1.00" fill="#000"/>
<rect x="64.40" y="201.00" width="9.30" height="1.00" fill="#000"/>
<text x="76.16" y="204" font-size="12.0" letter-spacing="0.35" font-style="italic" transform="matrix(1.06,0,0,1,-4.61,0)">Um</text>
<rect x="96.00" y="200.00" width="2.00" height="1.00" fill="#333"/>
<path d="M104.90,193.00 Q100.10,202.00 104.90,211.00" fill="none" stroke="#000" stroke-width="1.2"/>
<text x="108.13" y="204" font-size="12.0" letter-spacing="0.35" transform="matrix(1.06,0,0,1,-6.54,0)">1</text>
<rect x="120.00" y="200.00" width="7.00" height="1.00" fill="#000"/>
<text x="129.40" y="204" font-size="12.0" letter-spacing="0.35" font-style="italic" transform="matrix(1.06,0,0,1,-7.76,0)">ma</text>
<rect x="150.00" y="200.00" width="2.00" height="1.00" fill="#333"/>
<text x="156.24" y="204" font-size="12.0" letter-spacing="0.35" transform="matrix(1.06,0,0,1,-9.42,0)">cos</text>
<path d="M186.20,195.80 Q181.60,202.40 186.20,209.00" fill="none" stroke="#000" stroke-width="1.2"/>
<text x="188.27" y="204" font-size="12.0" letter-spacing="0.35" font-style="italic" transform="matrix(1.06,0,0,1,-11.28,0)">Ω</text>
<rect x="201.00" y="200.00" width="2.00" height="1.00" fill="#333"/>
<text x="206.83" y="204" font-size="12.0" letter-spacing="0.35" font-style="italic" transform="matrix(1.06,0,0,1,-12.50,0)">t</text>
<path d="M219.60,195.80 Q224.20,202.40 219.60,209.00" fill="none" stroke="#000" stroke-width="1.2"/>
<path d="M225.10,193.00 Q230.70,202.00 225.10,211.00" fill="none" stroke="#000" stroke-width="1.2"/>
<rect x="233.00" y="200.00" width="2.00" height="1.00" fill="#333"/>
<text x="236.02" y="204" font-size="12.0" letter-spacing="0.35" transform="matrix(1.06,0,0,1,-14.22,0)">sin</text>
<path d="M267.40,195.80 Q263.00,202.40 267.40,209.00" fill="none" stroke="#000" stroke-width="1.2"/>
<text x="269.25" y="204" font-size="12.0" letter-spacing="0.35" font-style="italic" transform="matrix(1.06,0,0,1,-16.16,0)">ω</text>
<rect x="283.00" y="200.00" width="2.00" height="1.00" fill="#333"/>
<text x="288.13" y="204" font-size="12.0" letter-spacing="0.35" font-style="italic" transform="matrix(1.06,0,0,1,-17.38,0)">t</text>
<path d="M301.10,195.80 Q305.70,202.40 301.10,209.00" fill="none" stroke="#000" stroke-width="1.2"/>
<text x="11.62" y="248" font-size="12.0" letter-spacing="0.35" font-style="italic" transform="matrix(1.06,0,0,1,-0.66,0)">AbsTol</text>
<rect x="64.00" y="242.00" width="1.70" height="1.00" fill="#444"/>
<rect x="64.00" y="245.00" width="1.70" height="1.00" fill="#444"/>
<rect x="67.40" y="242.00" width="8.30" height="1.00" fill="#000"/>
<rect x="67.40" y="245.00" width="8.30" height="1.00" fill="#000"/>
<text x="77.13" y="248" font-size="12.0" letter-spacing="0.35" transform="matrix(1.06,0,0,1,-4.68,0)">1O</text>
<rect x="98.00" y="235.00" width="8.00" height="1.00" fill="#000"/>
<text x="108.40" y="239" font-size="12.0" letter-spacing="0.35" transform="matrix(1.06,0,0,1,-6.54,0)">4</text>
<text x="154.27" y="248" font-size="12.0" letter-spacing="0.35" font-style="italic" transform="matrix(1.06,0,0,1,-9.28,0)">RelTol</text>
<rect x="207.00" y="242.00" width="1.70" height="1.00" fill="#444"/>
<rect x="207.00" y="245.00" width="1.70" height="1.00" fill="#444"/>
<rect x="210.40" y="242.00" width="8.30" height="1.00" fill="#000"/>
<rect x="210.40" y="245.00" width="8.30" height="1.00" fill="#000"/>
<text x="220.73" y="248" font-size="12.0" letter-spacing="0.35" transform="matrix(1.06,0,0,1,-13.30,0)">1O</text>
<rect x="242.00" y="235.00" width="8.00" height="1.00" fill="#000"/>
<text x="252.00" y="239" font-size="12.0" letter-spacing="0.35" transform="matrix(1.06,0,0,1,-15.16,0)">4</text>
<text x="10.21" y="274" font-size="12.0" letter-spacing="0.35" font-style="italic" transform="matrix(1.06,0,0,1,-0.66,0)">u</text>
<text x="17.70" y="280" font-size="10.0" letter-spacing="0.29" font-style="italic" transform="matrix(1.06,0,0,1,-1.09,0)">O</text>
<rect x="30.00" y="268.00" width="1.70" height="1.00" fill="#444"/>
<rect x="30.00" y="271.00" width="1.70" height="1.00" fill="#444"/>
<rect x="33.40" y="268.00" width="7.30" height="1.00" fill="#000"/>
<rect x="33.40" y="271.00" width="7.30" height="1.00" fill="#000"/>
<text x="43.90" y="274" font-size="12.0" letter-spacing="0.35" transform="matrix(1.06,0,0,1,-2.67,0)">O</text>
<text x="82.43" y="274" font-size="12.0" letter-spacing="0.35" font-style="italic" transform="matrix(1.06,0,0,1,-5.04,0)">t</text>
<text x="90.00" y="280" font-size="10.0" letter-spacing="0.29" font-style="italic" transform="matrix(1.06,0,0,1,-5.40,0)">min</text>
<rect x="115.00" y="268.00" width="1.70" height="1.00" fill="#444"/>
<rect x="115.00" y="271.00" width="1.70" height="1.00" fill="#444"/>
<rect x="118.40" y="268.00" width="8.30" height="1.00" fill="#000"/>
<rect x="118.40" y="271.00" width="8.30" height="1.00" fill="#000"/>
<text x="130.00" y="274" font-size="12.0" letter-spacing="0.35" transform="matrix(1.06,0,0,1,-7.84,0)">O</text>
<text x="162.43" y="274" font-size="12.0" letter-spacing="0.35" font-style="italic" transform="matrix(1.06,0,0,1,-9.84,0)">t</text>
<text x="170.50" y="280" font-size="10.0" letter-spacing="0.29" font-style="italic" transform="matrix(1.06,0,0,1,-10.23,0)">max</text>
<rect x="195.00" y="268.00" width="1.70" height="1.00" fill="#444"/>
<rect x="195.00" y="271.00" width="1.70" height="1.00" fill="#444"/>
<rect x="198.40" y="268.00" width="8.30" height="1.00" fill="#000"/>
<rect x="198.40" y="271.00" width="8.30" height="1.00" fill="#000"/>
<text x="209.70" y="274" font-size="12.0" letter-spacing="0.35" transform="matrix(1.06,0,0,1,-12.62,0)">O.OO2</text>
<text x="278.67" y="274" font-size="12.0" letter-spacing="0.35" font-style="italic" transform="matrix(1.06,0,0,1,-16.74,0)">N</text>
<rect x="293.00" y="268.00" width="1.70" height="1.00" fill="#444"/>
<rect x="293.00" y="271.00" width="1.70" height="1.00" fill="#444"/>
<rect x="296.40" y="268.00" width="8.30" height="1.00" fill="#000"/>
<rect x="296.40" y="271.00" width="8.30" height="1.00" fill="#000"/>
<text x="306.63" y="274" font-size="12.0" letter-spacing="0.35" transform="matrix(1.06,0,0,1,-18.45,0)">1O</text>
<text x="326.15" y="265" font-size="12.0" letter-spacing="0.35" transform="matrix(1.06,0,0,1,-19.61,0)">3</text>
<text x="10.67" y="310" font-size="12.0" letter-spacing="0.35" font-style="italic" transform="matrix(1.06,0,0,1,-0.66,0)">D</text>
<path d="M26.40,299.00 Q20.80,306.50 26.40,314.00" fill="none" stroke="#000" stroke-width="1.2"/>
<text x="29.73" y="310" font-size="12.0" letter-spacing="0.35" font-style="italic" transform="matrix(1.06,0,0,1,-1.88,0)">t</text>
<text x="40.51" y="310" font-size="12.0" letter-spacing="0.35" font-style="italic" transform="matrix(1.06,0,0,1,-2.46,0)">,</text>
<text x="50.91" y="310" font-size="12.0" letter-spacing="0.35" font-style="italic" transform="matrix(1.06,0,0,1,-3.10,0)">u</text>
<path d="M63.40,299.00 Q68.80,306.50 63.40,314.00" fill="none" stroke="#000" stroke-width="1.2"/>
<rect x="71.00" y="304.00" width="1.70" height="1.00" fill="#444"/>
<rect x="71.00" y="307.00" width="1.70" height="1.00" fill="#444"/>
<rect x="74.40" y="304.00" width="8.30" height="1.00" fill="#000"/>
<rect x="74.40" y="307.00" width="8.30" height="1.00" fill="#000"/>
<rect x="88.00" y="306.00" width="7.00" height="1.00" fill="#000"/>
<rect x="98.00" y="306.00" width="42.00" height="1.00" fill="#000"/>
<text x="114.21" y="301.5" font-size="12.0" letter-spacing="0.35" font-style="italic" transform="matrix(1.06,0,0,1,-6.90,0)">u</text>
<text x="99.17" y="318.7" font-size="12.0" letter-spacing="0.35" font-style="italic" transform="matrix(1.06,0,0,1,-5.97,0)">R</text>
<text x="107.75" y="324.3" font-size="10.0" letter-spacing="0.29" font-style="italic" transform="matrix(1.06,0,0,1,-6.48,0)">1</text>
<rect x="119.00" y="314.00" width="2.00" height="1.00" fill="#333"/>
<text x="123.92" y="318.7" font-size="12.0" letter-spacing="0.35" font-style="italic" transform="matrix(1.06,0,0,1,-7.48,0)">C</text>
<text x="132.75" y="324.3" font-size="10.0" letter-spacing="0.29" font-style="italic" transform="matrix(1.06,0,0,1,-7.98,0)">1</text>
<rect x="145.00" y="306.00" width="9.00" height="1.00" fill="#444"/>
<rect x="149.00" y="301.00" width="1.00" height="5.00" fill="#444"/>
<rect x="149.00" y="307.00" width="1.00" height="5.00" fill="#444"/>
<rect x="158.00" y="306.00" width="18.00" height="1.00" fill="#000"/>
<text x="163.23" y="302" font-size="12.0" letter-spacing="0.35" transform="matrix(1.06,0,0,1,-9.85,0)">1</text>
<text x="158.92" y="318.7" font-size="12.0" letter-spacing="0.35" font-style="italic" transform="matrix(1.06,0,0,1,-9.58,0)">C</text>
<text x="167.75" y="324.3" font-size="10.0" letter-spacing="0.29" font-style="italic" transform="matrix(1.06,0,0,1,-10.08,0)">1</text>
<rect x="181.00" y="306.00" width="2.00" height="1.00" fill="#333"/>
<path d="M188.70,297.50 Q183.30,308.75 188.70,320.00" fill="none" stroke="#000" stroke-width="1.2"/>
<text x="191.88" y="310" font-size="12.0" letter-spacing="0.35" font-style="italic" transform="matrix(1.06,0,0,1,-11.53,0)">i</text>
<path d="M207.80,298.00 Q202.40,308.40 207.80,318.80" fill="none" stroke="#000" stroke-width="1.2"/>
<text x="211.21" y="310" font-size="12.0" letter-spacing="0.35" font-style="italic" transform="matrix(1.06,0,0,1,-12.72,0)">u</text>
<text x="219.21" y="315.5" font-size="10.0" letter-spacing="0.29" font-style="italic" transform="matrix(1.06,0,0,1,-13.16,0)">in</text>
<path d="M239.00,302.70 Q235.40,308.30 239.00,313.90" fill="none" stroke="#000" stroke-width="1.2"/>
<text x="241.73" y="310" font-size="12.0" letter-spacing="0.35" font-style="italic" transform="matrix(1.06,0,0,1,-14.60,0)">t</text>
<path d="M254.40,302.70 Q258.00,308.30 254.40,313.90" fill="none" stroke="#000" stroke-width="1.2"/>
<rect x="261.00" y="306.00" width="6.00" height="1.00" fill="#000"/>
<text x="272.41" y="310" font-size="12.0" letter-spacing="0.35" font-style="italic" transform="matrix(1.06,0,0,1,-16.39,0)">u</text>
<path d="M285.80,298.20 Q289.40,307.95 285.80,317.70" fill="none" stroke="#000" stroke-width="1.2"/>
<path d="M290.30,296.70 Q295.30,307.90 290.30,319.10" fill="none" stroke="#000" stroke-width="1.2"/>
<text x="10.36" y="357" font-size="12.0" letter-spacing="0.35" font-style="italic" transform="matrix(1.06,0,0,1,-0.66,0)">start</text>
<rect x="56.00" y="351.00" width="1.70" height="1.00" fill="#444"/>
<rect x="56.00" y="354.00" width="1.70" height="1.00" fill="#444"/>
<rect x="59.40" y="351.00" width="8.30" height="1.00" fill="#000"/>
<rect x="59.40" y="354.00" width="8.30" height="1.00" fill="#000"/>
<text x="68.49" y="357" font-size="12.0" letter-spacing="0.35" transform="matrix(1.06,0,0,1,-4.18,0)">time</text>
<path d="M108.40,346.00 Q103.80,353.50 108.40,361.00" fill="none" stroke="#000" stroke-width="1.2"/>
<text x="110.90" y="357" font-size="12.0" letter-spacing="0.35" transform="matrix(1.06,0,0,1,-6.69,0)">O</text>
<path d="M121.60,346.00 Q126.40,353.50 121.60,361.00" fill="none" stroke="#000" stroke-width="1.2"/>
<text x="10.21" y="393" font-size="12.0" letter-spacing="0.35" font-style="italic" transform="matrix(1.06,0,0,1,-0.66,0)">u</text>
<text x="17.65" y="397.7" font-size="10.0" letter-spacing="0.29" font-style="italic" transform="matrix(1.06,0,0,1,-1.09,0)">out</text>
<rect x="43.00" y="387.00" width="1.70" height="1.00" fill="#444"/>
<rect x="43.00" y="390.00" width="1.70" height="1.00" fill="#444"/>
<rect x="46.40" y="387.00" width="7.30" height="1.00" fill="#000"/>
<rect x="46.40" y="390.00" width="7.30" height="1.00" fill="#000"/>
<text x="56.18" y="393" font-size="12.0" letter-spacing="0.35" transform="matrix(1.06,0,0,1,-3.46,0)">rkm9st</text>
<path d="M111.40,382.00 Q107.00,392.25 111.40,402.50" fill="none" stroke="#000" stroke-width="1.2"/>
<text x="114.21" y="393" font-size="12.0" letter-spacing="0.35" font-style="italic" transform="matrix(1.06,0,0,1,-6.90,0)">u</text>
<text x="122.30" y="398.6" font-size="10.0" letter-spacing="0.29" font-style="italic" transform="matrix(1.06,0,0,1,-7.37,0)">O</text>
<text x="132.51" y="393" font-size="12.0" letter-spacing="0.35" font-style="italic" transform="matrix(1.06,0,0,1,-7.98,0)">,</text>
<text x="142.03" y="393" font-size="12.0" letter-spacing="0.35" font-style="italic" transform="matrix(1.06,0,0,1,-8.62,0)">t</text>
<text x="150.80" y="398.6" font-size="10.0" letter-spacing="0.29" font-style="italic" transform="matrix(1.06,0,0,1,-9.05,0)">min</text>
<text x="173.01" y="393" font-size="12.0" letter-spacing="0.35" font-style="italic" transform="matrix(1.06,0,0,1,-10.41,0)">,</text>
<text x="182.73" y="393" font-size="12.0" letter-spacing="0.35" font-style="italic" transform="matrix(1.06,0,0,1,-11.06,0)">t</text>
<text x="191.40" y="398.6" font-size="10.0" letter-spacing="0.29" font-style="italic" transform="matrix(1.06,0,0,1,-11.48,0)">max</text>
<text x="213.71" y="393" font-size="12.0" letter-spacing="0.35" font-style="italic" transform="matrix(1.06,0,0,1,-12.85,0)">,</text>
<text x="224.67" y="393" font-size="12.0" letter-spacing="0.35" font-style="italic" transform="matrix(1.06,0,0,1,-13.50,0)">N</text>
<rect x="238.00" y="389.00" width="7.00" height="1.00" fill="#000"/>
<text x="248.03" y="393" font-size="12.0" letter-spacing="0.35" transform="matrix(1.06,0,0,1,-14.93,0)">1</text>
<text x="256.71" y="393" font-size="12.0" letter-spacing="0.35" font-style="italic" transform="matrix(1.06,0,0,1,-15.43,0)">,</text>
<text x="268.87" y="393" font-size="12.0" letter-spacing="0.35" font-style="italic" transform="matrix(1.06,0,0,1,-16.15,0)">D</text>
<path d="M281.70,382.00 Q286.10,392.25 281.70,402.50" fill="none" stroke="#000" stroke-width="1.2"/>
<text x="9.89" y="429" font-size="12.0" letter-spacing="0.35" transform="matrix(1.06,0,0,1,-0.66,0)">time</text>
<path d="M48.60,418.10 Q43.60,425.20 48.60,432.30" fill="none" stroke="#000" stroke-width="1.2"/>
<text x="51.20" y="429" font-size="12.0" letter-spacing="0.35" transform="matrix(1.06,0,0,1,-3.11,0)">O</text>
<path d="M61.40,418.10 Q66.40,425.20 61.40,432.30" fill="none" stroke="#000" stroke-width="1.2"/>
<rect x="69.00" y="425.00" width="8.00" height="1.00" fill="#000"/>
<text x="79.06" y="429" font-size="12.0" letter-spacing="0.35" font-style="italic" transform="matrix(1.06,0,0,1,-4.78,0)">start</text>
<rect x="125.00" y="423.00" width="9.00" height="1.00" fill="#000"/>
<rect x="125.00" y="426.00" width="9.00" height="1.00" fill="#000"/>
<text x="135.63" y="429" font-size="12.0" letter-spacing="0.35" transform="matrix(1.06,0,0,1,-8.19,0)">1.87</text>
<text x="173.14" y="429" font-size="12.0" letter-spacing="0.35" fill="#1a1aff" style="color:#1a1aff" transform="matrix(1.06,0,0,1,-10.43,0)">c</text>
<path d="M16.3,734.5 Q12.5,736 13,742 L13,752 Q13,757.2 10.6,757.7 Q13,758.2 13,763 L13,773 Q12.5,779 16.3,780.7" fill="none" stroke="#000" stroke-width="1.1"/>
<text x="18.31" y="747" font-size="12.0" letter-spacing="0.35" font-style="italic" transform="matrix(1.06,0,0,1,-1.15,0)">u</text>
<text x="26.81" y="752.5" font-size="10.0" letter-spacing="0.29" font-style="italic" transform="matrix(1.06,0,0,1,-1.62,0)">in</text>
<path d="M47.80,736.30 Q42.80,743.65 47.80,751.00" fill="none" stroke="#000" stroke-width="1.2"/>
<text x="49.93" y="747" font-size="12.0" letter-spacing="0.35" font-style="italic" transform="matrix(1.06,0,0,1,-3.09,0)">t</text>
<path d="M62.10,736.30 Q66.90,743.65 62.10,751.00" fill="none" stroke="#000" stroke-width="1.2"/>
<text x="18.31" y="770" font-size="12.0" letter-spacing="0.35" font-style="italic" transform="matrix(1.06,0,0,1,-1.15,0)">u</text>
<text x="26.45" y="775.5" font-size="10.0" letter-spacing="0.29" font-style="italic" transform="matrix(1.06,0,0,1,-1.62,0)">out</text>
</g>
</svg>
</body></html>
